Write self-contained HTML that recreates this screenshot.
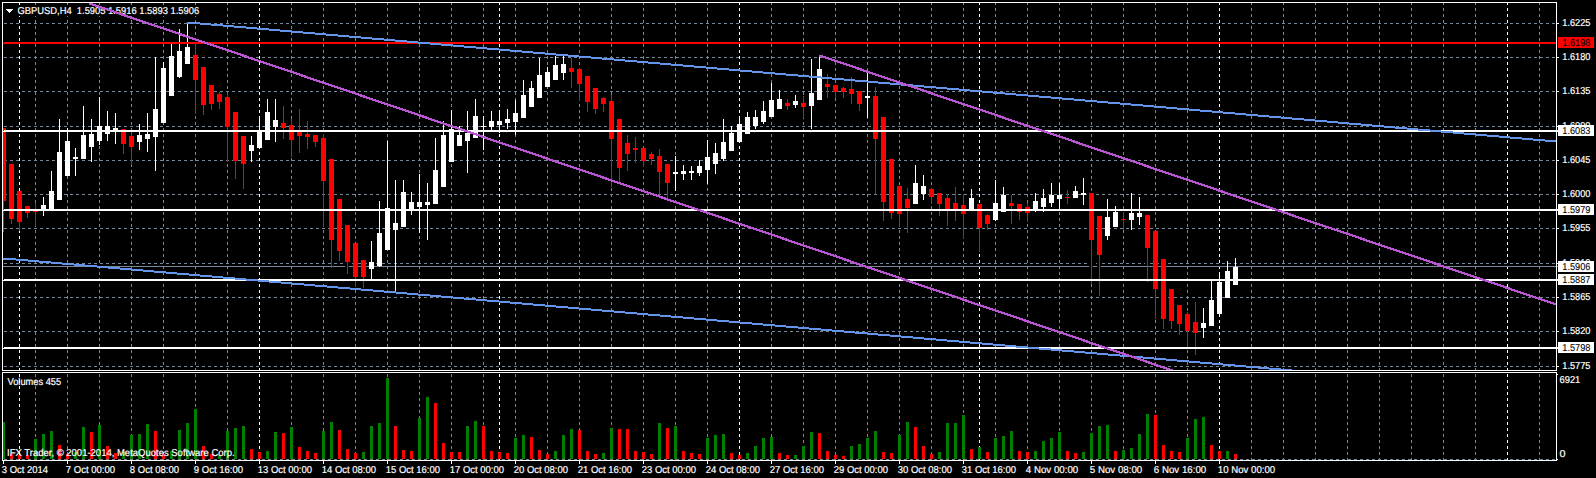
<!DOCTYPE html>
<html><head><meta charset="utf-8"><title>GBPUSD,H4</title>
<style>
html,body{margin:0;padding:0;background:#000;overflow:hidden}
svg{display:block}
text{font-family:"Liberation Sans", sans-serif;white-space:pre}
</style></head>
<body>
<svg width="1596" height="478" viewBox="0 0 1596 478">
<defs><clipPath id="cl"><rect x="3" y="3" width="1553" height="457"/></clipPath><clipPath id="cm"><rect x="3" y="3" width="1553" height="367"/></clipPath></defs>
<rect x="0" y="0" width="1596" height="478" fill="#000"/>
<g shape-rendering="crispEdges"><line x1="4" y1="23.5" x2="1556" y2="23.5" stroke="#778899" stroke-dasharray="3 3"/><line x1="4" y1="57.5" x2="1556" y2="57.5" stroke="#778899" stroke-dasharray="3 3"/><line x1="4" y1="91.5" x2="1556" y2="91.5" stroke="#778899" stroke-dasharray="3 3"/><line x1="4" y1="126.5" x2="1556" y2="126.5" stroke="#778899" stroke-dasharray="3 3"/><line x1="4" y1="160.5" x2="1556" y2="160.5" stroke="#778899" stroke-dasharray="3 3"/><line x1="4" y1="194.5" x2="1556" y2="194.5" stroke="#778899" stroke-dasharray="3 3"/><line x1="4" y1="228.5" x2="1556" y2="228.5" stroke="#778899" stroke-dasharray="3 3"/><line x1="4" y1="263.5" x2="1556" y2="263.5" stroke="#778899" stroke-dasharray="3 3"/><line x1="4" y1="297.5" x2="1556" y2="297.5" stroke="#778899" stroke-dasharray="3 3"/><line x1="4" y1="331.5" x2="1556" y2="331.5" stroke="#778899" stroke-dasharray="3 3"/><line x1="4" y1="366.5" x2="1556" y2="366.5" stroke="#778899" stroke-dasharray="3 3"/><line x1="4" y1="459.5" x2="1556" y2="459.5" stroke="#778899" stroke-dasharray="3 3"/><line x1="35.5" y1="2" x2="35.5" y2="461" stroke="#778899" stroke-dasharray="3 3"/><line x1="67.5" y1="2" x2="67.5" y2="461" stroke="#778899" stroke-dasharray="3 3"/><line x1="99.5" y1="2" x2="99.5" y2="461" stroke="#778899" stroke-dasharray="3 3"/><line x1="131.5" y1="2" x2="131.5" y2="461" stroke="#778899" stroke-dasharray="3 3"/><line x1="163.5" y1="2" x2="163.5" y2="461" stroke="#778899" stroke-dasharray="3 3"/><line x1="195.5" y1="2" x2="195.5" y2="461" stroke="#778899" stroke-dasharray="3 3"/><line x1="227.5" y1="2" x2="227.5" y2="461" stroke="#778899" stroke-dasharray="3 3"/><line x1="259.5" y1="2" x2="259.5" y2="461" stroke="#ffffff" stroke-dasharray="3 3"/><line x1="291.5" y1="2" x2="291.5" y2="461" stroke="#778899" stroke-dasharray="3 3"/><line x1="323.5" y1="2" x2="323.5" y2="461" stroke="#778899" stroke-dasharray="3 3"/><line x1="355.5" y1="2" x2="355.5" y2="461" stroke="#778899" stroke-dasharray="3 3"/><line x1="387.5" y1="2" x2="387.5" y2="461" stroke="#778899" stroke-dasharray="3 3"/><line x1="419.5" y1="2" x2="419.5" y2="461" stroke="#778899" stroke-dasharray="3 3"/><line x1="451.5" y1="2" x2="451.5" y2="461" stroke="#778899" stroke-dasharray="3 3"/><line x1="483.5" y1="2" x2="483.5" y2="461" stroke="#778899" stroke-dasharray="3 3"/><line x1="515.5" y1="2" x2="515.5" y2="461" stroke="#778899" stroke-dasharray="3 3"/><line x1="547.5" y1="2" x2="547.5" y2="461" stroke="#778899" stroke-dasharray="3 3"/><line x1="579.5" y1="2" x2="579.5" y2="461" stroke="#778899" stroke-dasharray="3 3"/><line x1="611.5" y1="2" x2="611.5" y2="461" stroke="#778899" stroke-dasharray="3 3"/><line x1="643.5" y1="2" x2="643.5" y2="461" stroke="#778899" stroke-dasharray="3 3"/><line x1="675.5" y1="2" x2="675.5" y2="461" stroke="#778899" stroke-dasharray="3 3"/><line x1="707.5" y1="2" x2="707.5" y2="461" stroke="#778899" stroke-dasharray="3 3"/><line x1="739.5" y1="2" x2="739.5" y2="461" stroke="#ffffff" stroke-dasharray="3 3"/><line x1="771.5" y1="2" x2="771.5" y2="461" stroke="#778899" stroke-dasharray="3 3"/><line x1="803.5" y1="2" x2="803.5" y2="461" stroke="#778899" stroke-dasharray="3 3"/><line x1="835.5" y1="2" x2="835.5" y2="461" stroke="#778899" stroke-dasharray="3 3"/><line x1="867.5" y1="2" x2="867.5" y2="461" stroke="#778899" stroke-dasharray="3 3"/><line x1="899.5" y1="2" x2="899.5" y2="461" stroke="#778899" stroke-dasharray="3 3"/><line x1="931.5" y1="2" x2="931.5" y2="461" stroke="#778899" stroke-dasharray="3 3"/><line x1="963.5" y1="2" x2="963.5" y2="461" stroke="#778899" stroke-dasharray="3 3"/><line x1="995.5" y1="2" x2="995.5" y2="461" stroke="#778899" stroke-dasharray="3 3"/><line x1="1027.5" y1="2" x2="1027.5" y2="461" stroke="#778899" stroke-dasharray="3 3"/><line x1="1059.5" y1="2" x2="1059.5" y2="461" stroke="#778899" stroke-dasharray="3 3"/><line x1="1091.5" y1="2" x2="1091.5" y2="461" stroke="#778899" stroke-dasharray="3 3"/><line x1="1123.5" y1="2" x2="1123.5" y2="461" stroke="#778899" stroke-dasharray="3 3"/><line x1="1155.5" y1="2" x2="1155.5" y2="461" stroke="#778899" stroke-dasharray="3 3"/><line x1="1187.5" y1="2" x2="1187.5" y2="461" stroke="#778899" stroke-dasharray="3 3"/><line x1="1219.5" y1="2" x2="1219.5" y2="461" stroke="#ffffff" stroke-dasharray="3 3"/><line x1="1251.5" y1="2" x2="1251.5" y2="461" stroke="#778899" stroke-dasharray="3 3"/><line x1="1283.5" y1="2" x2="1283.5" y2="461" stroke="#778899" stroke-dasharray="3 3"/><line x1="1315.5" y1="2" x2="1315.5" y2="461" stroke="#778899" stroke-dasharray="3 3"/><line x1="1347.5" y1="2" x2="1347.5" y2="461" stroke="#778899" stroke-dasharray="3 3"/><line x1="1379.5" y1="2" x2="1379.5" y2="461" stroke="#778899" stroke-dasharray="3 3"/><line x1="1411.5" y1="2" x2="1411.5" y2="461" stroke="#778899" stroke-dasharray="3 3"/><line x1="1443.5" y1="2" x2="1443.5" y2="461" stroke="#778899" stroke-dasharray="3 3"/><line x1="1475.5" y1="2" x2="1475.5" y2="461" stroke="#778899" stroke-dasharray="3 3"/><line x1="1507.5" y1="2" x2="1507.5" y2="461" stroke="#ffffff" stroke-dasharray="3 3"/><line x1="1539.5" y1="2" x2="1539.5" y2="461" stroke="#778899" stroke-dasharray="3 3"/><line x1="19.5" y1="2" x2="19.5" y2="461" stroke="#fff" stroke-dasharray="3 3"/><line x1="499.5" y1="2" x2="499.5" y2="461" stroke="#fff" stroke-dasharray="3 3"/><line x1="979.5" y1="2" x2="979.5" y2="461" stroke="#fff" stroke-dasharray="3 3"/></g>
<rect x="17" y="5" width="183" height="11" fill="#000" shape-rendering="crispEdges"/>
<g font-family='"Liberation Sans", sans-serif' font-size="10" stroke-width="0.2" text-rendering="geometricPrecision">
<text x="17.55" y="14" fill="#fff" stroke="#fff" textLength="181.55" lengthAdjust="spacingAndGlyphs">GBPUSD,H4&#160;&#160;1.5905 1.5916 1.5893 1.5906</text>
</g>
<rect x="6" y="9" width="7" height="1" fill="#fff" shape-rendering="crispEdges"/>
<rect x="7" y="10" width="5" height="1" fill="#fff" shape-rendering="crispEdges"/>
<rect x="8" y="11" width="3" height="1" fill="#fff" shape-rendering="crispEdges"/>
<rect x="9" y="12" width="1" height="1" fill="#fff" shape-rendering="crispEdges"/>
<rect x="3" y="266" width="1555" height="1" fill="#778899" shape-rendering="crispEdges"/>
<rect x="345" y="263" width="4" height="1" fill="#000" shape-rendering="crispEdges"/>
<rect x="345" y="266" width="4" height="1" fill="#000" shape-rendering="crispEdges"/>
<rect x="1089" y="263" width="4" height="1" fill="#000" shape-rendering="crispEdges"/>
<rect x="1089" y="266" width="4" height="1" fill="#000" shape-rendering="crispEdges"/>
<rect x="1097" y="263" width="4" height="1" fill="#000" shape-rendering="crispEdges"/>
<rect x="1097" y="266" width="4" height="1" fill="#000" shape-rendering="crispEdges"/>
<rect x="1145" y="263" width="2" height="1" fill="#000" shape-rendering="crispEdges"/>
<g shape-rendering="crispEdges" clip-path="url(#cl)"><rect x="2" y="422" width="3" height="37" fill="#008000"/><rect x="10" y="454" width="3" height="5" fill="#ff0000"/><rect x="18" y="455" width="3" height="4" fill="#ff0000"/><rect x="26" y="455" width="3" height="4" fill="#ff0000"/><rect x="34" y="439" width="3" height="20" fill="#008000"/><rect x="42" y="434" width="3" height="25" fill="#008000"/><rect x="50" y="431" width="3" height="28" fill="#008000"/><rect x="58" y="445" width="3" height="14" fill="#ff0000"/><rect x="66" y="454" width="3" height="5" fill="#ff0000"/><rect x="74" y="452" width="3" height="7" fill="#008000"/><rect x="82" y="427" width="3" height="32" fill="#008000"/><rect x="90" y="432" width="3" height="27" fill="#ff0000"/><rect x="98" y="425" width="3" height="34" fill="#008000"/><rect x="106" y="446" width="3" height="13" fill="#ff0000"/><rect x="114" y="453" width="3" height="6" fill="#ff0000"/><rect x="122" y="452" width="3" height="7" fill="#008000"/><rect x="130" y="435" width="3" height="24" fill="#008000"/><rect x="138" y="434" width="3" height="25" fill="#008000"/><rect x="146" y="424" width="3" height="35" fill="#008000"/><rect x="154" y="431" width="3" height="28" fill="#ff0000"/><rect x="162" y="454" width="3" height="5" fill="#ff0000"/><rect x="170" y="451" width="3" height="8" fill="#008000"/><rect x="178" y="430" width="3" height="29" fill="#008000"/><rect x="186" y="423" width="3" height="36" fill="#008000"/><rect x="194" y="409" width="3" height="50" fill="#008000"/><rect x="202" y="446" width="3" height="13" fill="#ff0000"/><rect x="210" y="454" width="3" height="5" fill="#ff0000"/><rect x="218" y="455" width="3" height="4" fill="#008000"/><rect x="226" y="431" width="3" height="28" fill="#008000"/><rect x="234" y="428" width="3" height="31" fill="#008000"/><rect x="242" y="426" width="3" height="33" fill="#008000"/><rect x="250" y="449" width="3" height="10" fill="#ff0000"/><rect x="258" y="452" width="3" height="7" fill="#ff0000"/><rect x="266" y="451" width="3" height="8" fill="#008000"/><rect x="274" y="432" width="3" height="27" fill="#008000"/><rect x="282" y="433" width="3" height="26" fill="#ff0000"/><rect x="290" y="427" width="3" height="32" fill="#008000"/><rect x="298" y="447" width="3" height="12" fill="#ff0000"/><rect x="306" y="451" width="3" height="8" fill="#ff0000"/><rect x="314" y="453" width="3" height="6" fill="#ff0000"/><rect x="322" y="431" width="3" height="28" fill="#008000"/><rect x="330" y="422" width="3" height="37" fill="#008000"/><rect x="338" y="430" width="3" height="29" fill="#ff0000"/><rect x="346" y="449" width="3" height="10" fill="#ff0000"/><rect x="354" y="453" width="3" height="6" fill="#ff0000"/><rect x="362" y="452" width="3" height="7" fill="#008000"/><rect x="370" y="426" width="3" height="33" fill="#008000"/><rect x="378" y="423" width="3" height="36" fill="#008000"/><rect x="386" y="378" width="3" height="81" fill="#008000"/><rect x="394" y="426" width="3" height="33" fill="#ff0000"/><rect x="402" y="450" width="3" height="9" fill="#ff0000"/><rect x="410" y="451" width="3" height="8" fill="#ff0000"/><rect x="418" y="418" width="3" height="41" fill="#008000"/><rect x="426" y="397" width="3" height="62" fill="#008000"/><rect x="434" y="403" width="3" height="56" fill="#ff0000"/><rect x="442" y="443" width="3" height="16" fill="#ff0000"/><rect x="450" y="452" width="3" height="7" fill="#ff0000"/><rect x="458" y="452" width="3" height="7" fill="#ff0000"/><rect x="466" y="426" width="3" height="33" fill="#008000"/><rect x="474" y="421" width="3" height="38" fill="#008000"/><rect x="482" y="426" width="3" height="33" fill="#ff0000"/><rect x="490" y="451" width="3" height="8" fill="#ff0000"/><rect x="498" y="452" width="3" height="7" fill="#ff0000"/><rect x="506" y="453" width="3" height="6" fill="#ff0000"/><rect x="514" y="438" width="3" height="21" fill="#008000"/><rect x="522" y="435" width="3" height="24" fill="#008000"/><rect x="530" y="437" width="3" height="22" fill="#ff0000"/><rect x="538" y="450" width="3" height="9" fill="#ff0000"/><rect x="546" y="454" width="3" height="5" fill="#ff0000"/><rect x="554" y="451" width="3" height="8" fill="#008000"/><rect x="562" y="435" width="3" height="24" fill="#008000"/><rect x="570" y="429" width="3" height="30" fill="#008000"/><rect x="578" y="430" width="3" height="29" fill="#ff0000"/><rect x="586" y="451" width="3" height="8" fill="#ff0000"/><rect x="594" y="454" width="3" height="5" fill="#ff0000"/><rect x="602" y="453" width="3" height="6" fill="#008000"/><rect x="610" y="428" width="3" height="31" fill="#008000"/><rect x="618" y="429" width="3" height="30" fill="#ff0000"/><rect x="626" y="429" width="3" height="30" fill="#ff0000"/><rect x="634" y="451" width="3" height="8" fill="#ff0000"/><rect x="642" y="452" width="3" height="7" fill="#ff0000"/><rect x="650" y="454" width="3" height="5" fill="#ff0000"/><rect x="658" y="423" width="3" height="36" fill="#008000"/><rect x="666" y="428" width="3" height="31" fill="#ff0000"/><rect x="674" y="426" width="3" height="33" fill="#008000"/><rect x="682" y="451" width="3" height="8" fill="#ff0000"/><rect x="690" y="453" width="3" height="6" fill="#ff0000"/><rect x="698" y="454" width="3" height="5" fill="#ff0000"/><rect x="706" y="438" width="3" height="21" fill="#008000"/><rect x="714" y="435" width="3" height="24" fill="#008000"/><rect x="722" y="434" width="3" height="25" fill="#008000"/><rect x="730" y="453" width="3" height="6" fill="#ff0000"/><rect x="738" y="455" width="3" height="4" fill="#ff0000"/><rect x="746" y="453" width="3" height="6" fill="#008000"/><rect x="754" y="446" width="3" height="13" fill="#008000"/><rect x="762" y="438" width="3" height="21" fill="#008000"/><rect x="770" y="437" width="3" height="22" fill="#008000"/><rect x="778" y="453" width="3" height="6" fill="#ff0000"/><rect x="786" y="455" width="3" height="4" fill="#ff0000"/><rect x="794" y="455" width="3" height="4" fill="#008000"/><rect x="802" y="446" width="3" height="13" fill="#008000"/><rect x="810" y="432" width="3" height="27" fill="#008000"/><rect x="818" y="433" width="3" height="26" fill="#ff0000"/><rect x="826" y="451" width="3" height="8" fill="#ff0000"/><rect x="834" y="455" width="3" height="4" fill="#ff0000"/><rect x="842" y="456" width="3" height="3" fill="#ff0000"/><rect x="850" y="446" width="3" height="13" fill="#008000"/><rect x="858" y="444" width="3" height="15" fill="#008000"/><rect x="866" y="438" width="3" height="21" fill="#008000"/><rect x="874" y="431" width="3" height="28" fill="#008000"/><rect x="882" y="452" width="3" height="7" fill="#ff0000"/><rect x="890" y="453" width="3" height="6" fill="#ff0000"/><rect x="898" y="435" width="3" height="24" fill="#008000"/><rect x="906" y="422" width="3" height="37" fill="#008000"/><rect x="914" y="427" width="3" height="32" fill="#ff0000"/><rect x="922" y="446" width="3" height="13" fill="#ff0000"/><rect x="930" y="454" width="3" height="5" fill="#ff0000"/><rect x="938" y="452" width="3" height="7" fill="#008000"/><rect x="946" y="423" width="3" height="36" fill="#008000"/><rect x="954" y="423" width="3" height="36" fill="#008000"/><rect x="962" y="415" width="3" height="44" fill="#008000"/><rect x="970" y="449" width="3" height="10" fill="#ff0000"/><rect x="978" y="447" width="3" height="12" fill="#008000"/><rect x="986" y="452" width="3" height="7" fill="#ff0000"/><rect x="994" y="438" width="3" height="21" fill="#008000"/><rect x="1002" y="436" width="3" height="23" fill="#008000"/><rect x="1010" y="431" width="3" height="28" fill="#008000"/><rect x="1018" y="451" width="3" height="8" fill="#ff0000"/><rect x="1026" y="452" width="3" height="7" fill="#ff0000"/><rect x="1034" y="451" width="3" height="8" fill="#008000"/><rect x="1042" y="441" width="3" height="18" fill="#008000"/><rect x="1050" y="438" width="3" height="21" fill="#008000"/><rect x="1058" y="432" width="3" height="27" fill="#008000"/><rect x="1066" y="451" width="3" height="8" fill="#ff0000"/><rect x="1074" y="453" width="3" height="6" fill="#ff0000"/><rect x="1082" y="452" width="3" height="7" fill="#008000"/><rect x="1090" y="433" width="3" height="26" fill="#008000"/><rect x="1098" y="426" width="3" height="33" fill="#008000"/><rect x="1106" y="425" width="3" height="34" fill="#008000"/><rect x="1114" y="451" width="3" height="8" fill="#ff0000"/><rect x="1122" y="450" width="3" height="9" fill="#008000"/><rect x="1130" y="448" width="3" height="11" fill="#008000"/><rect x="1138" y="434" width="3" height="25" fill="#008000"/><rect x="1146" y="414" width="3" height="45" fill="#008000"/><rect x="1154" y="415" width="3" height="44" fill="#ff0000"/><rect x="1162" y="445" width="3" height="14" fill="#ff0000"/><rect x="1170" y="451" width="3" height="8" fill="#ff0000"/><rect x="1178" y="452" width="3" height="7" fill="#ff0000"/><rect x="1186" y="438" width="3" height="21" fill="#008000"/><rect x="1194" y="419" width="3" height="40" fill="#008000"/><rect x="1202" y="417" width="3" height="42" fill="#008000"/><rect x="1210" y="445" width="3" height="14" fill="#ff0000"/><rect x="1218" y="451" width="3" height="8" fill="#ff0000"/><rect x="1226" y="451" width="3" height="8" fill="#008000"/><rect x="1234" y="454" width="3" height="5" fill="#ff0000"/><rect x="3" y="128" width="1" height="104" fill="#ff0000"/><rect x="1" y="128" width="5" height="73" fill="#ff0000"/><rect x="11" y="164" width="1" height="60" fill="#ff0000"/><rect x="9" y="164" width="5" height="55" fill="#ff0000"/><rect x="19" y="191" width="1" height="40" fill="#ff0000"/><rect x="17" y="191" width="5" height="31" fill="#ff0000"/><rect x="27" y="206" width="1" height="12" fill="#ff0000"/><rect x="25" y="206" width="5" height="7" fill="#ff0000"/><rect x="35" y="203" width="1" height="23" fill="#ff0000"/><rect x="33" y="211" width="5" height="1" fill="#ff0000"/><rect x="43" y="197" width="1" height="19" fill="#ffffff"/><rect x="41" y="205" width="5" height="6" fill="#ffffff"/><rect x="51" y="171" width="1" height="40" fill="#ffffff"/><rect x="49" y="191" width="5" height="20" fill="#ffffff"/><rect x="59" y="119" width="1" height="81" fill="#ffffff"/><rect x="57" y="152" width="5" height="48" fill="#ffffff"/><rect x="67" y="128" width="1" height="48" fill="#ffffff"/><rect x="65" y="141" width="5" height="35" fill="#ffffff"/><rect x="75" y="148" width="1" height="28" fill="#ffffff"/><rect x="73" y="157" width="5" height="2" fill="#ffffff"/><rect x="83" y="106" width="1" height="53" fill="#ffffff"/><rect x="81" y="135" width="5" height="24" fill="#ffffff"/><rect x="91" y="119" width="1" height="43" fill="#ffffff"/><rect x="89" y="134" width="5" height="13" fill="#ffffff"/><rect x="99" y="97" width="1" height="48" fill="#ffffff"/><rect x="97" y="126" width="5" height="15" fill="#ffffff"/><rect x="107" y="111" width="1" height="30" fill="#ffffff"/><rect x="105" y="126" width="5" height="8" fill="#ffffff"/><rect x="115" y="113" width="1" height="31" fill="#ffffff"/><rect x="113" y="128" width="5" height="3" fill="#ffffff"/><rect x="123" y="129" width="1" height="25" fill="#ff0000"/><rect x="121" y="129" width="5" height="15" fill="#ff0000"/><rect x="131" y="132" width="1" height="33" fill="#ff0000"/><rect x="129" y="136" width="5" height="11" fill="#ff0000"/><rect x="139" y="124" width="1" height="26" fill="#ffffff"/><rect x="137" y="135" width="5" height="7" fill="#ffffff"/><rect x="147" y="113" width="1" height="39" fill="#ffffff"/><rect x="145" y="134" width="5" height="5" fill="#ffffff"/><rect x="155" y="57" width="1" height="114" fill="#ffffff"/><rect x="153" y="109" width="5" height="28" fill="#ffffff"/><rect x="163" y="62" width="1" height="61" fill="#ffffff"/><rect x="161" y="68" width="5" height="55" fill="#ffffff"/><rect x="171" y="44" width="1" height="52" fill="#ffffff"/><rect x="169" y="56" width="5" height="40" fill="#ffffff"/><rect x="179" y="29" width="1" height="49" fill="#ffffff"/><rect x="177" y="51" width="5" height="26" fill="#ffffff"/><rect x="187" y="23" width="1" height="41" fill="#ffffff"/><rect x="185" y="47" width="5" height="17" fill="#ffffff"/><rect x="195" y="44" width="1" height="70" fill="#ff0000"/><rect x="193" y="55" width="5" height="25" fill="#ff0000"/><rect x="203" y="67" width="1" height="48" fill="#ff0000"/><rect x="201" y="67" width="5" height="38" fill="#ff0000"/><rect x="211" y="85" width="1" height="25" fill="#ff0000"/><rect x="209" y="85" width="5" height="19" fill="#ff0000"/><rect x="219" y="92" width="1" height="17" fill="#ff0000"/><rect x="217" y="94" width="5" height="8" fill="#ff0000"/><rect x="227" y="93" width="1" height="69" fill="#ff0000"/><rect x="225" y="97" width="5" height="30" fill="#ff0000"/><rect x="235" y="112" width="1" height="67" fill="#ff0000"/><rect x="233" y="112" width="5" height="49" fill="#ff0000"/><rect x="243" y="136" width="1" height="53" fill="#ff0000"/><rect x="241" y="136" width="5" height="28" fill="#ff0000"/><rect x="251" y="136" width="1" height="26" fill="#ffffff"/><rect x="249" y="145" width="5" height="6" fill="#ffffff"/><rect x="259" y="116" width="1" height="33" fill="#ffffff"/><rect x="257" y="130" width="5" height="18" fill="#ffffff"/><rect x="267" y="99" width="1" height="41" fill="#ffffff"/><rect x="265" y="112" width="5" height="28" fill="#ffffff"/><rect x="275" y="99" width="1" height="43" fill="#ffffff"/><rect x="273" y="120" width="5" height="7" fill="#ffffff"/><rect x="283" y="106" width="1" height="33" fill="#ff0000"/><rect x="281" y="123" width="5" height="5" fill="#ff0000"/><rect x="291" y="119" width="1" height="38" fill="#ff0000"/><rect x="289" y="125" width="5" height="15" fill="#ff0000"/><rect x="299" y="109" width="1" height="44" fill="#ff0000"/><rect x="297" y="130" width="5" height="6" fill="#ff0000"/><rect x="307" y="121" width="1" height="28" fill="#ff0000"/><rect x="305" y="134" width="5" height="3" fill="#ff0000"/><rect x="315" y="135" width="1" height="12" fill="#ff0000"/><rect x="313" y="135" width="5" height="7" fill="#ff0000"/><rect x="323" y="134" width="1" height="93" fill="#ff0000"/><rect x="321" y="138" width="5" height="43" fill="#ff0000"/><rect x="331" y="159" width="1" height="109" fill="#ff0000"/><rect x="329" y="159" width="5" height="81" fill="#ff0000"/><rect x="339" y="199" width="1" height="62" fill="#ff0000"/><rect x="337" y="199" width="5" height="52" fill="#ff0000"/><rect x="347" y="225" width="1" height="49" fill="#ff0000"/><rect x="345" y="225" width="5" height="37" fill="#ff0000"/><rect x="355" y="243" width="1" height="44" fill="#ff0000"/><rect x="353" y="243" width="5" height="34" fill="#ff0000"/><rect x="363" y="260" width="1" height="28" fill="#ff0000"/><rect x="361" y="260" width="5" height="17" fill="#ff0000"/><rect x="371" y="241" width="1" height="38" fill="#ffffff"/><rect x="369" y="262" width="5" height="7" fill="#ffffff"/><rect x="379" y="201" width="1" height="66" fill="#ffffff"/><rect x="377" y="233" width="5" height="33" fill="#ffffff"/><rect x="387" y="141" width="1" height="109" fill="#ffffff"/><rect x="385" y="208" width="5" height="42" fill="#ffffff"/><rect x="395" y="180" width="1" height="111" fill="#ffffff"/><rect x="393" y="223" width="5" height="7" fill="#ffffff"/><rect x="403" y="180" width="1" height="47" fill="#ffffff"/><rect x="401" y="192" width="5" height="35" fill="#ffffff"/><rect x="411" y="192" width="1" height="23" fill="#ffffff"/><rect x="409" y="202" width="5" height="9" fill="#ffffff"/><rect x="419" y="174" width="1" height="59" fill="#ffffff"/><rect x="417" y="202" width="5" height="5" fill="#ffffff"/><rect x="427" y="183" width="1" height="57" fill="#ffffff"/><rect x="425" y="202" width="5" height="3" fill="#ffffff"/><rect x="435" y="138" width="1" height="66" fill="#ffffff"/><rect x="433" y="170" width="5" height="34" fill="#ffffff"/><rect x="443" y="121" width="1" height="66" fill="#ffffff"/><rect x="441" y="135" width="5" height="52" fill="#ffffff"/><rect x="451" y="110" width="1" height="52" fill="#ffffff"/><rect x="449" y="129" width="5" height="33" fill="#ffffff"/><rect x="459" y="126" width="1" height="20" fill="#ffffff"/><rect x="457" y="135" width="5" height="11" fill="#ffffff"/><rect x="467" y="111" width="1" height="62" fill="#ffffff"/><rect x="465" y="133" width="5" height="8" fill="#ffffff"/><rect x="475" y="99" width="1" height="39" fill="#ffffff"/><rect x="473" y="116" width="5" height="22" fill="#ffffff"/><rect x="483" y="116" width="1" height="34" fill="#ffffff"/><rect x="481" y="126" width="5" height="1" fill="#ffffff"/><rect x="491" y="111" width="1" height="19" fill="#ffffff"/><rect x="489" y="121" width="5" height="6" fill="#ffffff"/><rect x="499" y="110" width="1" height="23" fill="#ffffff"/><rect x="497" y="121" width="5" height="4" fill="#ffffff"/><rect x="507" y="109" width="1" height="20" fill="#ffffff"/><rect x="505" y="119" width="5" height="4" fill="#ffffff"/><rect x="515" y="100" width="1" height="35" fill="#ffffff"/><rect x="513" y="113" width="5" height="9" fill="#ffffff"/><rect x="523" y="80" width="1" height="38" fill="#ffffff"/><rect x="521" y="95" width="5" height="23" fill="#ffffff"/><rect x="531" y="81" width="1" height="26" fill="#ffffff"/><rect x="529" y="88" width="5" height="19" fill="#ffffff"/><rect x="539" y="58" width="1" height="40" fill="#ffffff"/><rect x="537" y="75" width="5" height="23" fill="#ffffff"/><rect x="547" y="67" width="1" height="20" fill="#ffffff"/><rect x="545" y="72" width="5" height="15" fill="#ffffff"/><rect x="555" y="56" width="1" height="24" fill="#ffffff"/><rect x="553" y="65" width="5" height="15" fill="#ffffff"/><rect x="563" y="56" width="1" height="24" fill="#ffffff"/><rect x="561" y="64" width="5" height="9" fill="#ffffff"/><rect x="571" y="58" width="1" height="30" fill="#ff0000"/><rect x="569" y="68" width="5" height="4" fill="#ff0000"/><rect x="579" y="68" width="1" height="33" fill="#ff0000"/><rect x="577" y="69" width="5" height="15" fill="#ff0000"/><rect x="587" y="76" width="1" height="36" fill="#ff0000"/><rect x="585" y="76" width="5" height="26" fill="#ff0000"/><rect x="595" y="88" width="1" height="26" fill="#ff0000"/><rect x="593" y="88" width="5" height="21" fill="#ff0000"/><rect x="603" y="97" width="1" height="15" fill="#ff0000"/><rect x="601" y="98" width="5" height="6" fill="#ff0000"/><rect x="611" y="95" width="1" height="92" fill="#ff0000"/><rect x="609" y="101" width="5" height="38" fill="#ff0000"/><rect x="619" y="119" width="1" height="64" fill="#ff0000"/><rect x="617" y="119" width="5" height="49" fill="#ff0000"/><rect x="627" y="135" width="1" height="36" fill="#ff0000"/><rect x="625" y="143" width="5" height="11" fill="#ff0000"/><rect x="635" y="137" width="1" height="26" fill="#ff0000"/><rect x="633" y="148" width="5" height="2" fill="#ff0000"/><rect x="643" y="148" width="1" height="19" fill="#ff0000"/><rect x="641" y="148" width="5" height="13" fill="#ff0000"/><rect x="651" y="152" width="1" height="13" fill="#ff0000"/><rect x="649" y="154" width="5" height="5" fill="#ff0000"/><rect x="659" y="149" width="1" height="47" fill="#ff0000"/><rect x="657" y="156" width="5" height="16" fill="#ff0000"/><rect x="667" y="164" width="1" height="34" fill="#ff0000"/><rect x="665" y="164" width="5" height="19" fill="#ff0000"/><rect x="675" y="156" width="1" height="35" fill="#ffffff"/><rect x="673" y="172" width="5" height="2" fill="#ffffff"/><rect x="683" y="165" width="1" height="15" fill="#ffffff"/><rect x="681" y="171" width="5" height="3" fill="#ffffff"/><rect x="691" y="166" width="1" height="14" fill="#ffffff"/><rect x="689" y="171" width="5" height="2" fill="#ffffff"/><rect x="699" y="160" width="1" height="16" fill="#ffffff"/><rect x="697" y="166" width="5" height="7" fill="#ffffff"/><rect x="707" y="140" width="1" height="44" fill="#ffffff"/><rect x="705" y="157" width="5" height="13" fill="#ffffff"/><rect x="715" y="143" width="1" height="31" fill="#ffffff"/><rect x="713" y="153" width="5" height="11" fill="#ffffff"/><rect x="723" y="119" width="1" height="42" fill="#ffffff"/><rect x="721" y="142" width="5" height="17" fill="#ffffff"/><rect x="731" y="126" width="1" height="25" fill="#ffffff"/><rect x="729" y="133" width="5" height="18" fill="#ffffff"/><rect x="739" y="116" width="1" height="27" fill="#ffffff"/><rect x="737" y="124" width="5" height="18" fill="#ffffff"/><rect x="747" y="112" width="1" height="22" fill="#ffffff"/><rect x="745" y="117" width="5" height="17" fill="#ffffff"/><rect x="755" y="110" width="1" height="19" fill="#ffffff"/><rect x="753" y="117" width="5" height="9" fill="#ffffff"/><rect x="763" y="101" width="1" height="23" fill="#ffffff"/><rect x="761" y="111" width="5" height="11" fill="#ffffff"/><rect x="771" y="83" width="1" height="34" fill="#ffffff"/><rect x="769" y="100" width="5" height="17" fill="#ffffff"/><rect x="779" y="90" width="1" height="19" fill="#ffffff"/><rect x="777" y="99" width="5" height="10" fill="#ffffff"/><rect x="787" y="99" width="1" height="11" fill="#ff0000"/><rect x="785" y="103" width="5" height="3" fill="#ff0000"/><rect x="795" y="95" width="1" height="13" fill="#ffffff"/><rect x="793" y="101" width="5" height="4" fill="#ffffff"/><rect x="803" y="96" width="1" height="22" fill="#ff0000"/><rect x="801" y="103" width="5" height="4" fill="#ff0000"/><rect x="811" y="59" width="1" height="70" fill="#ffffff"/><rect x="809" y="93" width="5" height="13" fill="#ffffff"/><rect x="819" y="56" width="1" height="44" fill="#ffffff"/><rect x="817" y="69" width="5" height="31" fill="#ffffff"/><rect x="827" y="74" width="1" height="24" fill="#ff0000"/><rect x="825" y="84" width="5" height="3" fill="#ff0000"/><rect x="835" y="85" width="1" height="13" fill="#ff0000"/><rect x="833" y="85" width="5" height="7" fill="#ff0000"/><rect x="843" y="87" width="1" height="11" fill="#ff0000"/><rect x="841" y="88" width="5" height="4" fill="#ff0000"/><rect x="851" y="77" width="1" height="27" fill="#ff0000"/><rect x="849" y="89" width="5" height="5" fill="#ff0000"/><rect x="859" y="91" width="1" height="20" fill="#ff0000"/><rect x="857" y="91" width="5" height="13" fill="#ff0000"/><rect x="867" y="73" width="1" height="45" fill="#ffffff"/><rect x="865" y="96" width="5" height="2" fill="#ffffff"/><rect x="875" y="87" width="1" height="107" fill="#ff0000"/><rect x="873" y="96" width="5" height="43" fill="#ff0000"/><rect x="883" y="117" width="1" height="104" fill="#ff0000"/><rect x="881" y="117" width="5" height="85" fill="#ff0000"/><rect x="891" y="159" width="1" height="60" fill="#ff0000"/><rect x="889" y="159" width="5" height="54" fill="#ff0000"/><rect x="899" y="186" width="1" height="41" fill="#ff0000"/><rect x="897" y="186" width="5" height="28" fill="#ff0000"/><rect x="907" y="188" width="1" height="45" fill="#ff0000"/><rect x="905" y="199" width="5" height="9" fill="#ff0000"/><rect x="915" y="165" width="1" height="39" fill="#ffffff"/><rect x="913" y="183" width="5" height="21" fill="#ffffff"/><rect x="923" y="175" width="1" height="25" fill="#ffffff"/><rect x="921" y="186" width="5" height="8" fill="#ffffff"/><rect x="931" y="188" width="1" height="16" fill="#ff0000"/><rect x="929" y="189" width="5" height="8" fill="#ff0000"/><rect x="939" y="193" width="1" height="23" fill="#ff0000"/><rect x="937" y="193" width="5" height="11" fill="#ff0000"/><rect x="947" y="194" width="1" height="32" fill="#ff0000"/><rect x="945" y="198" width="5" height="13" fill="#ff0000"/><rect x="955" y="187" width="1" height="34" fill="#ff0000"/><rect x="953" y="203" width="5" height="8" fill="#ff0000"/><rect x="963" y="194" width="1" height="45" fill="#ff0000"/><rect x="961" y="205" width="5" height="9" fill="#ff0000"/><rect x="971" y="189" width="1" height="22" fill="#ffffff"/><rect x="969" y="198" width="5" height="13" fill="#ffffff"/><rect x="979" y="204" width="1" height="48" fill="#ff0000"/><rect x="977" y="204" width="5" height="24" fill="#ff0000"/><rect x="987" y="214" width="1" height="16" fill="#ff0000"/><rect x="985" y="215" width="5" height="9" fill="#ff0000"/><rect x="995" y="180" width="1" height="41" fill="#ffffff"/><rect x="993" y="203" width="5" height="17" fill="#ffffff"/><rect x="1003" y="187" width="1" height="25" fill="#ffffff"/><rect x="1001" y="195" width="5" height="17" fill="#ffffff"/><rect x="1011" y="195" width="1" height="29" fill="#ff0000"/><rect x="1009" y="203" width="5" height="3" fill="#ff0000"/><rect x="1019" y="204" width="1" height="16" fill="#ff0000"/><rect x="1017" y="204" width="5" height="8" fill="#ff0000"/><rect x="1027" y="203" width="1" height="19" fill="#ff0000"/><rect x="1025" y="207" width="5" height="6" fill="#ff0000"/><rect x="1035" y="193" width="1" height="19" fill="#ffffff"/><rect x="1033" y="201" width="5" height="10" fill="#ffffff"/><rect x="1043" y="189" width="1" height="23" fill="#ffffff"/><rect x="1041" y="198" width="5" height="9" fill="#ffffff"/><rect x="1051" y="183" width="1" height="24" fill="#ffffff"/><rect x="1049" y="195" width="5" height="8" fill="#ffffff"/><rect x="1059" y="183" width="1" height="28" fill="#ffffff"/><rect x="1057" y="195" width="5" height="4" fill="#ffffff"/><rect x="1067" y="190" width="1" height="14" fill="#ff0000"/><rect x="1065" y="197" width="5" height="1" fill="#ff0000"/><rect x="1075" y="186" width="1" height="12" fill="#ffffff"/><rect x="1073" y="191" width="5" height="7" fill="#ffffff"/><rect x="1083" y="178" width="1" height="27" fill="#ffffff"/><rect x="1081" y="193" width="5" height="2" fill="#ffffff"/><rect x="1091" y="193" width="1" height="91" fill="#ff0000"/><rect x="1089" y="193" width="5" height="47" fill="#ff0000"/><rect x="1099" y="216" width="1" height="80" fill="#ff0000"/><rect x="1097" y="216" width="5" height="39" fill="#ff0000"/><rect x="1107" y="199" width="1" height="41" fill="#ffffff"/><rect x="1105" y="217" width="5" height="19" fill="#ffffff"/><rect x="1115" y="206" width="1" height="21" fill="#ffffff"/><rect x="1113" y="212" width="5" height="15" fill="#ffffff"/><rect x="1123" y="212" width="1" height="18" fill="#ff0000"/><rect x="1121" y="219" width="5" height="1" fill="#ff0000"/><rect x="1131" y="193" width="1" height="37" fill="#ffffff"/><rect x="1129" y="213" width="5" height="7" fill="#ffffff"/><rect x="1139" y="197" width="1" height="28" fill="#ffffff"/><rect x="1137" y="213" width="5" height="4" fill="#ffffff"/><rect x="1147" y="215" width="1" height="67" fill="#ff0000"/><rect x="1145" y="215" width="5" height="33" fill="#ff0000"/><rect x="1155" y="231" width="1" height="88" fill="#ff0000"/><rect x="1153" y="231" width="5" height="58" fill="#ff0000"/><rect x="1163" y="259" width="1" height="70" fill="#ff0000"/><rect x="1161" y="259" width="5" height="60" fill="#ff0000"/><rect x="1171" y="289" width="1" height="40" fill="#ff0000"/><rect x="1169" y="289" width="5" height="32" fill="#ff0000"/><rect x="1179" y="305" width="1" height="30" fill="#ff0000"/><rect x="1177" y="305" width="5" height="19" fill="#ff0000"/><rect x="1187" y="312" width="1" height="37" fill="#ff0000"/><rect x="1185" y="314" width="5" height="17" fill="#ff0000"/><rect x="1195" y="302" width="1" height="53" fill="#ff0000"/><rect x="1193" y="322" width="5" height="11" fill="#ff0000"/><rect x="1203" y="308" width="1" height="30" fill="#ffffff"/><rect x="1201" y="323" width="5" height="5" fill="#ffffff"/><rect x="1211" y="281" width="1" height="45" fill="#ffffff"/><rect x="1209" y="300" width="5" height="26" fill="#ffffff"/><rect x="1219" y="272" width="1" height="44" fill="#ffffff"/><rect x="1217" y="282" width="5" height="32" fill="#ffffff"/><rect x="1227" y="261" width="1" height="37" fill="#ffffff"/><rect x="1225" y="271" width="5" height="27" fill="#ffffff"/><rect x="1235" y="258" width="1" height="27" fill="#ffffff"/><rect x="1233" y="267" width="5" height="18" fill="#ffffff"/></g>
<g shape-rendering="crispEdges"><rect x="4" y="130" width="1554" height="2" fill="#fff"/><rect x="3" y="131" width="1" height="1" fill="#fff"/><rect x="4" y="209" width="1554" height="2" fill="#fff"/><rect x="3" y="210" width="1" height="1" fill="#fff"/><rect x="4" y="279" width="1554" height="2" fill="#fff"/><rect x="3" y="280" width="1" height="1" fill="#fff"/><rect x="4" y="347" width="1554" height="2" fill="#fff"/><rect x="3" y="348" width="1" height="1" fill="#fff"/><rect x="4" y="42" width="1552" height="2" fill="#ff0000"/><rect x="3" y="43" width="1" height="1" fill="#ff0000"/></g>
<g shape-rendering="crispEdges"><rect x="187" y="22" width="13" height="2" fill="#6495ED"/><rect x="200" y="23" width="11" height="2" fill="#6495ED"/><rect x="211" y="24" width="12" height="2" fill="#6495ED"/><rect x="223" y="25" width="11" height="2" fill="#6495ED"/><rect x="234" y="26" width="12" height="2" fill="#6495ED"/><rect x="246" y="27" width="11" height="2" fill="#6495ED"/><rect x="257" y="28" width="12" height="2" fill="#6495ED"/><rect x="269" y="29" width="11" height="2" fill="#6495ED"/><rect x="280" y="30" width="12" height="2" fill="#6495ED"/><rect x="292" y="31" width="11" height="2" fill="#6495ED"/><rect x="303" y="32" width="12" height="2" fill="#6495ED"/><rect x="315" y="33" width="11" height="2" fill="#6495ED"/><rect x="326" y="34" width="12" height="2" fill="#6495ED"/><rect x="338" y="35" width="11" height="2" fill="#6495ED"/><rect x="349" y="36" width="12" height="2" fill="#6495ED"/><rect x="361" y="37" width="11" height="2" fill="#6495ED"/><rect x="372" y="38" width="12" height="2" fill="#6495ED"/><rect x="384" y="39" width="11" height="2" fill="#6495ED"/><rect x="395" y="40" width="12" height="2" fill="#6495ED"/><rect x="407" y="41" width="11" height="2" fill="#6495ED"/><rect x="418" y="42" width="12" height="2" fill="#6495ED"/><rect x="430" y="43" width="11" height="2" fill="#6495ED"/><rect x="441" y="44" width="12" height="2" fill="#6495ED"/><rect x="453" y="45" width="11" height="2" fill="#6495ED"/><rect x="464" y="46" width="12" height="2" fill="#6495ED"/><rect x="476" y="47" width="11" height="2" fill="#6495ED"/><rect x="487" y="48" width="12" height="2" fill="#6495ED"/><rect x="499" y="49" width="11" height="2" fill="#6495ED"/><rect x="510" y="50" width="12" height="2" fill="#6495ED"/><rect x="522" y="51" width="11" height="2" fill="#6495ED"/><rect x="533" y="52" width="12" height="2" fill="#6495ED"/><rect x="545" y="53" width="11" height="2" fill="#6495ED"/><rect x="556" y="54" width="12" height="2" fill="#6495ED"/><rect x="568" y="55" width="11" height="2" fill="#6495ED"/><rect x="579" y="56" width="12" height="2" fill="#6495ED"/><rect x="591" y="57" width="11" height="2" fill="#6495ED"/><rect x="602" y="58" width="12" height="2" fill="#6495ED"/><rect x="614" y="59" width="11" height="2" fill="#6495ED"/><rect x="625" y="60" width="12" height="2" fill="#6495ED"/><rect x="637" y="61" width="11" height="2" fill="#6495ED"/><rect x="648" y="62" width="12" height="2" fill="#6495ED"/><rect x="660" y="63" width="11" height="2" fill="#6495ED"/><rect x="671" y="64" width="12" height="2" fill="#6495ED"/><rect x="683" y="65" width="11" height="2" fill="#6495ED"/><rect x="694" y="66" width="12" height="2" fill="#6495ED"/><rect x="706" y="67" width="11" height="2" fill="#6495ED"/><rect x="717" y="68" width="12" height="2" fill="#6495ED"/><rect x="729" y="69" width="11" height="2" fill="#6495ED"/><rect x="740" y="70" width="12" height="2" fill="#6495ED"/><rect x="752" y="71" width="11" height="2" fill="#6495ED"/><rect x="763" y="72" width="12" height="2" fill="#6495ED"/><rect x="775" y="73" width="11" height="2" fill="#6495ED"/><rect x="786" y="74" width="12" height="2" fill="#6495ED"/><rect x="798" y="75" width="11" height="2" fill="#6495ED"/><rect x="809" y="76" width="12" height="2" fill="#6495ED"/><rect x="821" y="77" width="11" height="2" fill="#6495ED"/><rect x="832" y="78" width="12" height="2" fill="#6495ED"/><rect x="844" y="79" width="11" height="2" fill="#6495ED"/><rect x="855" y="80" width="12" height="2" fill="#6495ED"/><rect x="867" y="81" width="11" height="2" fill="#6495ED"/><rect x="878" y="82" width="12" height="2" fill="#6495ED"/><rect x="890" y="83" width="11" height="2" fill="#6495ED"/><rect x="901" y="84" width="12" height="2" fill="#6495ED"/><rect x="913" y="85" width="11" height="2" fill="#6495ED"/><rect x="924" y="86" width="12" height="2" fill="#6495ED"/><rect x="936" y="87" width="11" height="2" fill="#6495ED"/><rect x="947" y="88" width="12" height="2" fill="#6495ED"/><rect x="959" y="89" width="11" height="2" fill="#6495ED"/><rect x="970" y="90" width="12" height="2" fill="#6495ED"/><rect x="982" y="91" width="11" height="2" fill="#6495ED"/><rect x="993" y="92" width="12" height="2" fill="#6495ED"/><rect x="1005" y="93" width="11" height="2" fill="#6495ED"/><rect x="1016" y="94" width="12" height="2" fill="#6495ED"/><rect x="1028" y="95" width="11" height="2" fill="#6495ED"/><rect x="1039" y="96" width="12" height="2" fill="#6495ED"/><rect x="1051" y="97" width="11" height="2" fill="#6495ED"/><rect x="1062" y="98" width="12" height="2" fill="#6495ED"/><rect x="1074" y="99" width="11" height="2" fill="#6495ED"/><rect x="1085" y="100" width="12" height="2" fill="#6495ED"/><rect x="1097" y="101" width="11" height="2" fill="#6495ED"/><rect x="1108" y="102" width="12" height="2" fill="#6495ED"/><rect x="1120" y="103" width="11" height="2" fill="#6495ED"/><rect x="1131" y="104" width="12" height="2" fill="#6495ED"/><rect x="1143" y="105" width="11" height="2" fill="#6495ED"/><rect x="1154" y="106" width="12" height="2" fill="#6495ED"/><rect x="1166" y="107" width="11" height="2" fill="#6495ED"/><rect x="1177" y="108" width="12" height="2" fill="#6495ED"/><rect x="1189" y="109" width="11" height="2" fill="#6495ED"/><rect x="1200" y="110" width="12" height="2" fill="#6495ED"/><rect x="1212" y="111" width="11" height="2" fill="#6495ED"/><rect x="1223" y="112" width="12" height="2" fill="#6495ED"/><rect x="1235" y="113" width="11" height="2" fill="#6495ED"/><rect x="1246" y="114" width="12" height="2" fill="#6495ED"/><rect x="1258" y="115" width="11" height="2" fill="#6495ED"/><rect x="1269" y="116" width="12" height="2" fill="#6495ED"/><rect x="1281" y="117" width="11" height="2" fill="#6495ED"/><rect x="1292" y="118" width="12" height="2" fill="#6495ED"/><rect x="1304" y="119" width="11" height="2" fill="#6495ED"/><rect x="1315" y="120" width="12" height="2" fill="#6495ED"/><rect x="1327" y="121" width="11" height="2" fill="#6495ED"/><rect x="1338" y="122" width="11" height="2" fill="#6495ED"/><rect x="1349" y="123" width="12" height="2" fill="#6495ED"/><rect x="1361" y="124" width="11" height="2" fill="#6495ED"/><rect x="1372" y="125" width="12" height="2" fill="#6495ED"/><rect x="1384" y="126" width="11" height="2" fill="#6495ED"/><rect x="1395" y="127" width="12" height="2" fill="#6495ED"/><rect x="1407" y="128" width="11" height="2" fill="#6495ED"/><rect x="1418" y="129" width="12" height="2" fill="#6495ED"/><rect x="1430" y="130" width="11" height="2" fill="#6495ED"/><rect x="1441" y="131" width="12" height="2" fill="#6495ED"/><rect x="1453" y="132" width="11" height="2" fill="#6495ED"/><rect x="1464" y="133" width="12" height="2" fill="#6495ED"/><rect x="1476" y="134" width="11" height="2" fill="#6495ED"/><rect x="1487" y="135" width="12" height="2" fill="#6495ED"/><rect x="1499" y="136" width="11" height="2" fill="#6495ED"/><rect x="1510" y="137" width="12" height="2" fill="#6495ED"/><rect x="1522" y="138" width="11" height="2" fill="#6495ED"/><rect x="1533" y="139" width="12" height="2" fill="#6495ED"/><rect x="1545" y="140" width="11" height="2" fill="#6495ED"/><rect x="3" y="258" width="13" height="2" fill="#6495ED"/><rect x="16" y="259" width="12" height="2" fill="#6495ED"/><rect x="28" y="260" width="11" height="2" fill="#6495ED"/><rect x="39" y="261" width="12" height="2" fill="#6495ED"/><rect x="51" y="262" width="11" height="2" fill="#6495ED"/><rect x="62" y="263" width="12" height="2" fill="#6495ED"/><rect x="74" y="264" width="11" height="2" fill="#6495ED"/><rect x="85" y="265" width="12" height="2" fill="#6495ED"/><rect x="97" y="266" width="11" height="2" fill="#6495ED"/><rect x="108" y="267" width="12" height="2" fill="#6495ED"/><rect x="120" y="268" width="11" height="2" fill="#6495ED"/><rect x="131" y="269" width="12" height="2" fill="#6495ED"/><rect x="143" y="270" width="11" height="2" fill="#6495ED"/><rect x="154" y="271" width="12" height="2" fill="#6495ED"/><rect x="166" y="272" width="11" height="2" fill="#6495ED"/><rect x="177" y="273" width="12" height="2" fill="#6495ED"/><rect x="189" y="274" width="11" height="2" fill="#6495ED"/><rect x="200" y="275" width="12" height="2" fill="#6495ED"/><rect x="212" y="276" width="11" height="2" fill="#6495ED"/><rect x="223" y="277" width="12" height="2" fill="#6495ED"/><rect x="235" y="278" width="11" height="2" fill="#6495ED"/><rect x="246" y="279" width="12" height="2" fill="#6495ED"/><rect x="258" y="280" width="11" height="2" fill="#6495ED"/><rect x="269" y="281" width="12" height="2" fill="#6495ED"/><rect x="281" y="282" width="11" height="2" fill="#6495ED"/><rect x="292" y="283" width="12" height="2" fill="#6495ED"/><rect x="304" y="284" width="11" height="2" fill="#6495ED"/><rect x="315" y="285" width="12" height="2" fill="#6495ED"/><rect x="327" y="286" width="11" height="2" fill="#6495ED"/><rect x="338" y="287" width="12" height="2" fill="#6495ED"/><rect x="350" y="288" width="11" height="2" fill="#6495ED"/><rect x="361" y="289" width="12" height="2" fill="#6495ED"/><rect x="373" y="290" width="11" height="2" fill="#6495ED"/><rect x="384" y="291" width="12" height="2" fill="#6495ED"/><rect x="396" y="292" width="11" height="2" fill="#6495ED"/><rect x="407" y="293" width="11" height="2" fill="#6495ED"/><rect x="418" y="294" width="12" height="2" fill="#6495ED"/><rect x="430" y="295" width="11" height="2" fill="#6495ED"/><rect x="441" y="296" width="12" height="2" fill="#6495ED"/><rect x="453" y="297" width="11" height="2" fill="#6495ED"/><rect x="464" y="298" width="12" height="2" fill="#6495ED"/><rect x="476" y="299" width="11" height="2" fill="#6495ED"/><rect x="487" y="300" width="12" height="2" fill="#6495ED"/><rect x="499" y="301" width="11" height="2" fill="#6495ED"/><rect x="510" y="302" width="12" height="2" fill="#6495ED"/><rect x="522" y="303" width="11" height="2" fill="#6495ED"/><rect x="533" y="304" width="12" height="2" fill="#6495ED"/><rect x="545" y="305" width="11" height="2" fill="#6495ED"/><rect x="556" y="306" width="12" height="2" fill="#6495ED"/><rect x="568" y="307" width="11" height="2" fill="#6495ED"/><rect x="579" y="308" width="12" height="2" fill="#6495ED"/><rect x="591" y="309" width="11" height="2" fill="#6495ED"/><rect x="602" y="310" width="12" height="2" fill="#6495ED"/><rect x="614" y="311" width="11" height="2" fill="#6495ED"/><rect x="625" y="312" width="12" height="2" fill="#6495ED"/><rect x="637" y="313" width="11" height="2" fill="#6495ED"/><rect x="648" y="314" width="12" height="2" fill="#6495ED"/><rect x="660" y="315" width="11" height="2" fill="#6495ED"/><rect x="671" y="316" width="12" height="2" fill="#6495ED"/><rect x="683" y="317" width="11" height="2" fill="#6495ED"/><rect x="694" y="318" width="12" height="2" fill="#6495ED"/><rect x="706" y="319" width="11" height="2" fill="#6495ED"/><rect x="717" y="320" width="12" height="2" fill="#6495ED"/><rect x="729" y="321" width="11" height="2" fill="#6495ED"/><rect x="740" y="322" width="12" height="2" fill="#6495ED"/><rect x="752" y="323" width="11" height="2" fill="#6495ED"/><rect x="763" y="324" width="12" height="2" fill="#6495ED"/><rect x="775" y="325" width="11" height="2" fill="#6495ED"/><rect x="786" y="326" width="12" height="2" fill="#6495ED"/><rect x="798" y="327" width="11" height="2" fill="#6495ED"/><rect x="809" y="328" width="12" height="2" fill="#6495ED"/><rect x="821" y="329" width="11" height="2" fill="#6495ED"/><rect x="832" y="330" width="12" height="2" fill="#6495ED"/><rect x="844" y="331" width="11" height="2" fill="#6495ED"/><rect x="855" y="332" width="12" height="2" fill="#6495ED"/><rect x="867" y="333" width="11" height="2" fill="#6495ED"/><rect x="878" y="334" width="12" height="2" fill="#6495ED"/><rect x="890" y="335" width="11" height="2" fill="#6495ED"/><rect x="901" y="336" width="12" height="2" fill="#6495ED"/><rect x="913" y="337" width="11" height="2" fill="#6495ED"/><rect x="924" y="338" width="12" height="2" fill="#6495ED"/><rect x="936" y="339" width="11" height="2" fill="#6495ED"/><rect x="947" y="340" width="12" height="2" fill="#6495ED"/><rect x="959" y="341" width="11" height="2" fill="#6495ED"/><rect x="970" y="342" width="12" height="2" fill="#6495ED"/><rect x="982" y="343" width="11" height="2" fill="#6495ED"/><rect x="993" y="344" width="12" height="2" fill="#6495ED"/><rect x="1005" y="345" width="11" height="2" fill="#6495ED"/><rect x="1016" y="346" width="12" height="2" fill="#6495ED"/><rect x="1028" y="347" width="11" height="2" fill="#6495ED"/><rect x="1039" y="348" width="12" height="2" fill="#6495ED"/><rect x="1051" y="349" width="11" height="2" fill="#6495ED"/><rect x="1062" y="350" width="12" height="2" fill="#6495ED"/><rect x="1074" y="351" width="11" height="2" fill="#6495ED"/><rect x="1085" y="352" width="12" height="2" fill="#6495ED"/><rect x="1097" y="353" width="11" height="2" fill="#6495ED"/><rect x="1108" y="354" width="12" height="2" fill="#6495ED"/><rect x="1120" y="355" width="11" height="2" fill="#6495ED"/><rect x="1131" y="356" width="12" height="2" fill="#6495ED"/><rect x="1143" y="357" width="11" height="2" fill="#6495ED"/><rect x="1154" y="358" width="12" height="2" fill="#6495ED"/><rect x="1166" y="359" width="11" height="2" fill="#6495ED"/><rect x="1177" y="360" width="12" height="2" fill="#6495ED"/><rect x="1189" y="361" width="11" height="2" fill="#6495ED"/><rect x="1200" y="362" width="12" height="2" fill="#6495ED"/><rect x="1212" y="363" width="11" height="2" fill="#6495ED"/><rect x="1223" y="364" width="12" height="2" fill="#6495ED"/><rect x="1235" y="365" width="11" height="2" fill="#6495ED"/><rect x="1246" y="366" width="12" height="2" fill="#6495ED"/><rect x="1258" y="367" width="11" height="2" fill="#6495ED"/><rect x="1269" y="368" width="12" height="2" fill="#6495ED"/><rect x="1281" y="369" width="11" height="1" fill="#6495ED"/><rect x="89" y="3" width="4" height="1" fill="#BA55D3"/><rect x="89" y="4" width="7" height="1" fill="#BA55D3"/><rect x="92" y="5" width="7" height="1" fill="#BA55D3"/><rect x="95" y="6" width="7" height="1" fill="#BA55D3"/><rect x="98" y="7" width="7" height="1" fill="#BA55D3"/><rect x="101" y="8" width="7" height="1" fill="#BA55D3"/><rect x="104" y="9" width="7" height="1" fill="#BA55D3"/><rect x="107" y="10" width="7" height="1" fill="#BA55D3"/><rect x="110" y="11" width="7" height="1" fill="#BA55D3"/><rect x="113" y="12" width="7" height="1" fill="#BA55D3"/><rect x="116" y="13" width="7" height="1" fill="#BA55D3"/><rect x="119" y="14" width="7" height="1" fill="#BA55D3"/><rect x="121" y="15" width="7" height="1" fill="#BA55D3"/><rect x="124" y="16" width="7" height="1" fill="#BA55D3"/><rect x="127" y="17" width="7" height="1" fill="#BA55D3"/><rect x="130" y="18" width="7" height="1" fill="#BA55D3"/><rect x="133" y="19" width="7" height="1" fill="#BA55D3"/><rect x="136" y="20" width="7" height="1" fill="#BA55D3"/><rect x="139" y="21" width="7" height="1" fill="#BA55D3"/><rect x="142" y="22" width="7" height="1" fill="#BA55D3"/><rect x="145" y="23" width="7" height="1" fill="#BA55D3"/><rect x="148" y="24" width="7" height="1" fill="#BA55D3"/><rect x="151" y="25" width="7" height="1" fill="#BA55D3"/><rect x="154" y="26" width="7" height="1" fill="#BA55D3"/><rect x="157" y="27" width="7" height="1" fill="#BA55D3"/><rect x="160" y="28" width="7" height="1" fill="#BA55D3"/><rect x="163" y="29" width="7" height="1" fill="#BA55D3"/><rect x="166" y="30" width="7" height="1" fill="#BA55D3"/><rect x="169" y="31" width="7" height="1" fill="#BA55D3"/><rect x="172" y="32" width="7" height="1" fill="#BA55D3"/><rect x="175" y="33" width="7" height="1" fill="#BA55D3"/><rect x="178" y="34" width="7" height="1" fill="#BA55D3"/><rect x="180" y="35" width="7" height="1" fill="#BA55D3"/><rect x="183" y="36" width="7" height="1" fill="#BA55D3"/><rect x="186" y="37" width="7" height="1" fill="#BA55D3"/><rect x="189" y="38" width="7" height="1" fill="#BA55D3"/><rect x="192" y="39" width="7" height="1" fill="#BA55D3"/><rect x="195" y="40" width="7" height="1" fill="#BA55D3"/><rect x="198" y="41" width="7" height="1" fill="#BA55D3"/><rect x="201" y="42" width="7" height="1" fill="#BA55D3"/><rect x="204" y="43" width="7" height="1" fill="#BA55D3"/><rect x="207" y="44" width="7" height="1" fill="#BA55D3"/><rect x="210" y="45" width="7" height="1" fill="#BA55D3"/><rect x="213" y="46" width="7" height="1" fill="#BA55D3"/><rect x="216" y="47" width="7" height="1" fill="#BA55D3"/><rect x="219" y="48" width="7" height="1" fill="#BA55D3"/><rect x="222" y="49" width="7" height="1" fill="#BA55D3"/><rect x="225" y="50" width="7" height="1" fill="#BA55D3"/><rect x="228" y="51" width="7" height="1" fill="#BA55D3"/><rect x="231" y="52" width="7" height="1" fill="#BA55D3"/><rect x="234" y="53" width="7" height="1" fill="#BA55D3"/><rect x="237" y="54" width="7" height="1" fill="#BA55D3"/><rect x="240" y="55" width="7" height="1" fill="#BA55D3"/><rect x="242" y="56" width="7" height="1" fill="#BA55D3"/><rect x="245" y="57" width="7" height="1" fill="#BA55D3"/><rect x="248" y="58" width="7" height="1" fill="#BA55D3"/><rect x="251" y="59" width="7" height="1" fill="#BA55D3"/><rect x="254" y="60" width="7" height="1" fill="#BA55D3"/><rect x="257" y="61" width="7" height="1" fill="#BA55D3"/><rect x="260" y="62" width="7" height="1" fill="#BA55D3"/><rect x="263" y="63" width="7" height="1" fill="#BA55D3"/><rect x="266" y="64" width="7" height="1" fill="#BA55D3"/><rect x="269" y="65" width="7" height="1" fill="#BA55D3"/><rect x="272" y="66" width="7" height="1" fill="#BA55D3"/><rect x="275" y="67" width="7" height="1" fill="#BA55D3"/><rect x="278" y="68" width="7" height="1" fill="#BA55D3"/><rect x="281" y="69" width="7" height="1" fill="#BA55D3"/><rect x="284" y="70" width="7" height="1" fill="#BA55D3"/><rect x="287" y="71" width="7" height="1" fill="#BA55D3"/><rect x="290" y="72" width="7" height="1" fill="#BA55D3"/><rect x="293" y="73" width="7" height="1" fill="#BA55D3"/><rect x="296" y="74" width="7" height="1" fill="#BA55D3"/><rect x="299" y="75" width="7" height="1" fill="#BA55D3"/><rect x="301" y="76" width="7" height="1" fill="#BA55D3"/><rect x="304" y="77" width="7" height="1" fill="#BA55D3"/><rect x="307" y="78" width="7" height="1" fill="#BA55D3"/><rect x="310" y="79" width="7" height="1" fill="#BA55D3"/><rect x="313" y="80" width="7" height="1" fill="#BA55D3"/><rect x="316" y="81" width="7" height="1" fill="#BA55D3"/><rect x="319" y="82" width="7" height="1" fill="#BA55D3"/><rect x="322" y="83" width="7" height="1" fill="#BA55D3"/><rect x="325" y="84" width="7" height="1" fill="#BA55D3"/><rect x="328" y="85" width="7" height="1" fill="#BA55D3"/><rect x="331" y="86" width="7" height="1" fill="#BA55D3"/><rect x="334" y="87" width="7" height="1" fill="#BA55D3"/><rect x="337" y="88" width="7" height="1" fill="#BA55D3"/><rect x="340" y="89" width="7" height="1" fill="#BA55D3"/><rect x="343" y="90" width="7" height="1" fill="#BA55D3"/><rect x="346" y="91" width="7" height="1" fill="#BA55D3"/><rect x="349" y="92" width="7" height="1" fill="#BA55D3"/><rect x="352" y="93" width="7" height="1" fill="#BA55D3"/><rect x="355" y="94" width="7" height="1" fill="#BA55D3"/><rect x="358" y="95" width="7" height="1" fill="#BA55D3"/><rect x="360" y="96" width="7" height="1" fill="#BA55D3"/><rect x="363" y="97" width="7" height="1" fill="#BA55D3"/><rect x="366" y="98" width="7" height="1" fill="#BA55D3"/><rect x="369" y="99" width="7" height="1" fill="#BA55D3"/><rect x="372" y="100" width="7" height="1" fill="#BA55D3"/><rect x="375" y="101" width="7" height="1" fill="#BA55D3"/><rect x="378" y="102" width="7" height="1" fill="#BA55D3"/><rect x="381" y="103" width="7" height="1" fill="#BA55D3"/><rect x="384" y="104" width="7" height="1" fill="#BA55D3"/><rect x="387" y="105" width="7" height="1" fill="#BA55D3"/><rect x="390" y="106" width="7" height="1" fill="#BA55D3"/><rect x="393" y="107" width="7" height="1" fill="#BA55D3"/><rect x="396" y="108" width="7" height="1" fill="#BA55D3"/><rect x="399" y="109" width="7" height="1" fill="#BA55D3"/><rect x="402" y="110" width="7" height="1" fill="#BA55D3"/><rect x="405" y="111" width="7" height="1" fill="#BA55D3"/><rect x="408" y="112" width="7" height="1" fill="#BA55D3"/><rect x="411" y="113" width="7" height="1" fill="#BA55D3"/><rect x="414" y="114" width="7" height="1" fill="#BA55D3"/><rect x="417" y="115" width="7" height="1" fill="#BA55D3"/><rect x="420" y="116" width="7" height="1" fill="#BA55D3"/><rect x="422" y="117" width="7" height="1" fill="#BA55D3"/><rect x="425" y="118" width="7" height="1" fill="#BA55D3"/><rect x="428" y="119" width="7" height="1" fill="#BA55D3"/><rect x="431" y="120" width="7" height="1" fill="#BA55D3"/><rect x="434" y="121" width="7" height="1" fill="#BA55D3"/><rect x="437" y="122" width="7" height="1" fill="#BA55D3"/><rect x="440" y="123" width="7" height="1" fill="#BA55D3"/><rect x="443" y="124" width="7" height="1" fill="#BA55D3"/><rect x="446" y="125" width="7" height="1" fill="#BA55D3"/><rect x="449" y="126" width="7" height="1" fill="#BA55D3"/><rect x="452" y="127" width="7" height="1" fill="#BA55D3"/><rect x="455" y="128" width="7" height="1" fill="#BA55D3"/><rect x="458" y="129" width="7" height="1" fill="#BA55D3"/><rect x="461" y="130" width="7" height="1" fill="#BA55D3"/><rect x="464" y="131" width="7" height="1" fill="#BA55D3"/><rect x="467" y="132" width="7" height="1" fill="#BA55D3"/><rect x="470" y="133" width="7" height="1" fill="#BA55D3"/><rect x="473" y="134" width="7" height="1" fill="#BA55D3"/><rect x="476" y="135" width="7" height="1" fill="#BA55D3"/><rect x="479" y="136" width="7" height="1" fill="#BA55D3"/><rect x="481" y="137" width="7" height="1" fill="#BA55D3"/><rect x="484" y="138" width="7" height="1" fill="#BA55D3"/><rect x="487" y="139" width="7" height="1" fill="#BA55D3"/><rect x="490" y="140" width="7" height="1" fill="#BA55D3"/><rect x="493" y="141" width="7" height="1" fill="#BA55D3"/><rect x="496" y="142" width="7" height="1" fill="#BA55D3"/><rect x="499" y="143" width="7" height="1" fill="#BA55D3"/><rect x="502" y="144" width="7" height="1" fill="#BA55D3"/><rect x="505" y="145" width="7" height="1" fill="#BA55D3"/><rect x="508" y="146" width="7" height="1" fill="#BA55D3"/><rect x="511" y="147" width="7" height="1" fill="#BA55D3"/><rect x="514" y="148" width="7" height="1" fill="#BA55D3"/><rect x="517" y="149" width="7" height="1" fill="#BA55D3"/><rect x="520" y="150" width="7" height="1" fill="#BA55D3"/><rect x="523" y="151" width="7" height="1" fill="#BA55D3"/><rect x="526" y="152" width="7" height="1" fill="#BA55D3"/><rect x="529" y="153" width="7" height="1" fill="#BA55D3"/><rect x="532" y="154" width="7" height="1" fill="#BA55D3"/><rect x="535" y="155" width="7" height="1" fill="#BA55D3"/><rect x="538" y="156" width="7" height="1" fill="#BA55D3"/><rect x="541" y="157" width="7" height="1" fill="#BA55D3"/><rect x="543" y="158" width="7" height="1" fill="#BA55D3"/><rect x="546" y="159" width="7" height="1" fill="#BA55D3"/><rect x="549" y="160" width="7" height="1" fill="#BA55D3"/><rect x="552" y="161" width="7" height="1" fill="#BA55D3"/><rect x="555" y="162" width="7" height="1" fill="#BA55D3"/><rect x="558" y="163" width="7" height="1" fill="#BA55D3"/><rect x="561" y="164" width="7" height="1" fill="#BA55D3"/><rect x="564" y="165" width="7" height="1" fill="#BA55D3"/><rect x="567" y="166" width="7" height="1" fill="#BA55D3"/><rect x="570" y="167" width="7" height="1" fill="#BA55D3"/><rect x="573" y="168" width="7" height="1" fill="#BA55D3"/><rect x="576" y="169" width="7" height="1" fill="#BA55D3"/><rect x="579" y="170" width="7" height="1" fill="#BA55D3"/><rect x="582" y="171" width="7" height="1" fill="#BA55D3"/><rect x="585" y="172" width="7" height="1" fill="#BA55D3"/><rect x="588" y="173" width="7" height="1" fill="#BA55D3"/><rect x="591" y="174" width="7" height="1" fill="#BA55D3"/><rect x="594" y="175" width="7" height="1" fill="#BA55D3"/><rect x="597" y="176" width="7" height="1" fill="#BA55D3"/><rect x="600" y="177" width="7" height="1" fill="#BA55D3"/><rect x="602" y="178" width="7" height="1" fill="#BA55D3"/><rect x="605" y="179" width="7" height="1" fill="#BA55D3"/><rect x="608" y="180" width="7" height="1" fill="#BA55D3"/><rect x="611" y="181" width="7" height="1" fill="#BA55D3"/><rect x="614" y="182" width="7" height="1" fill="#BA55D3"/><rect x="617" y="183" width="7" height="1" fill="#BA55D3"/><rect x="620" y="184" width="7" height="1" fill="#BA55D3"/><rect x="623" y="185" width="7" height="1" fill="#BA55D3"/><rect x="626" y="186" width="7" height="1" fill="#BA55D3"/><rect x="629" y="187" width="7" height="1" fill="#BA55D3"/><rect x="632" y="188" width="7" height="1" fill="#BA55D3"/><rect x="635" y="189" width="7" height="1" fill="#BA55D3"/><rect x="638" y="190" width="7" height="1" fill="#BA55D3"/><rect x="641" y="191" width="7" height="1" fill="#BA55D3"/><rect x="644" y="192" width="7" height="1" fill="#BA55D3"/><rect x="647" y="193" width="7" height="1" fill="#BA55D3"/><rect x="650" y="194" width="7" height="1" fill="#BA55D3"/><rect x="653" y="195" width="7" height="1" fill="#BA55D3"/><rect x="656" y="196" width="7" height="1" fill="#BA55D3"/><rect x="659" y="197" width="7" height="1" fill="#BA55D3"/><rect x="661" y="198" width="7" height="1" fill="#BA55D3"/><rect x="664" y="199" width="7" height="1" fill="#BA55D3"/><rect x="667" y="200" width="7" height="1" fill="#BA55D3"/><rect x="670" y="201" width="7" height="1" fill="#BA55D3"/><rect x="673" y="202" width="7" height="1" fill="#BA55D3"/><rect x="676" y="203" width="7" height="1" fill="#BA55D3"/><rect x="679" y="204" width="7" height="1" fill="#BA55D3"/><rect x="682" y="205" width="7" height="1" fill="#BA55D3"/><rect x="685" y="206" width="7" height="1" fill="#BA55D3"/><rect x="688" y="207" width="7" height="1" fill="#BA55D3"/><rect x="691" y="208" width="7" height="1" fill="#BA55D3"/><rect x="694" y="209" width="7" height="1" fill="#BA55D3"/><rect x="697" y="210" width="7" height="1" fill="#BA55D3"/><rect x="700" y="211" width="7" height="1" fill="#BA55D3"/><rect x="703" y="212" width="7" height="1" fill="#BA55D3"/><rect x="706" y="213" width="7" height="1" fill="#BA55D3"/><rect x="709" y="214" width="7" height="1" fill="#BA55D3"/><rect x="712" y="215" width="7" height="1" fill="#BA55D3"/><rect x="715" y="216" width="7" height="1" fill="#BA55D3"/><rect x="718" y="217" width="7" height="1" fill="#BA55D3"/><rect x="721" y="218" width="7" height="1" fill="#BA55D3"/><rect x="723" y="219" width="7" height="1" fill="#BA55D3"/><rect x="726" y="220" width="7" height="1" fill="#BA55D3"/><rect x="729" y="221" width="7" height="1" fill="#BA55D3"/><rect x="732" y="222" width="7" height="1" fill="#BA55D3"/><rect x="735" y="223" width="7" height="1" fill="#BA55D3"/><rect x="738" y="224" width="7" height="1" fill="#BA55D3"/><rect x="741" y="225" width="7" height="1" fill="#BA55D3"/><rect x="744" y="226" width="7" height="1" fill="#BA55D3"/><rect x="747" y="227" width="7" height="1" fill="#BA55D3"/><rect x="750" y="228" width="7" height="1" fill="#BA55D3"/><rect x="753" y="229" width="7" height="1" fill="#BA55D3"/><rect x="756" y="230" width="7" height="1" fill="#BA55D3"/><rect x="759" y="231" width="7" height="1" fill="#BA55D3"/><rect x="762" y="232" width="7" height="1" fill="#BA55D3"/><rect x="765" y="233" width="7" height="1" fill="#BA55D3"/><rect x="768" y="234" width="7" height="1" fill="#BA55D3"/><rect x="771" y="235" width="7" height="1" fill="#BA55D3"/><rect x="774" y="236" width="7" height="1" fill="#BA55D3"/><rect x="777" y="237" width="7" height="1" fill="#BA55D3"/><rect x="780" y="238" width="7" height="1" fill="#BA55D3"/><rect x="782" y="239" width="7" height="1" fill="#BA55D3"/><rect x="785" y="240" width="7" height="1" fill="#BA55D3"/><rect x="788" y="241" width="7" height="1" fill="#BA55D3"/><rect x="791" y="242" width="7" height="1" fill="#BA55D3"/><rect x="794" y="243" width="7" height="1" fill="#BA55D3"/><rect x="797" y="244" width="7" height="1" fill="#BA55D3"/><rect x="800" y="245" width="7" height="1" fill="#BA55D3"/><rect x="803" y="246" width="7" height="1" fill="#BA55D3"/><rect x="806" y="247" width="7" height="1" fill="#BA55D3"/><rect x="809" y="248" width="7" height="1" fill="#BA55D3"/><rect x="812" y="249" width="7" height="1" fill="#BA55D3"/><rect x="815" y="250" width="7" height="1" fill="#BA55D3"/><rect x="818" y="251" width="7" height="1" fill="#BA55D3"/><rect x="821" y="252" width="7" height="1" fill="#BA55D3"/><rect x="824" y="253" width="7" height="1" fill="#BA55D3"/><rect x="827" y="254" width="7" height="1" fill="#BA55D3"/><rect x="830" y="255" width="7" height="1" fill="#BA55D3"/><rect x="833" y="256" width="7" height="1" fill="#BA55D3"/><rect x="836" y="257" width="7" height="1" fill="#BA55D3"/><rect x="839" y="258" width="7" height="1" fill="#BA55D3"/><rect x="842" y="259" width="7" height="1" fill="#BA55D3"/><rect x="844" y="260" width="7" height="1" fill="#BA55D3"/><rect x="847" y="261" width="7" height="1" fill="#BA55D3"/><rect x="850" y="262" width="7" height="1" fill="#BA55D3"/><rect x="853" y="263" width="7" height="1" fill="#BA55D3"/><rect x="856" y="264" width="7" height="1" fill="#BA55D3"/><rect x="859" y="265" width="7" height="1" fill="#BA55D3"/><rect x="862" y="266" width="7" height="1" fill="#BA55D3"/><rect x="865" y="267" width="7" height="1" fill="#BA55D3"/><rect x="868" y="268" width="7" height="1" fill="#BA55D3"/><rect x="871" y="269" width="7" height="1" fill="#BA55D3"/><rect x="874" y="270" width="7" height="1" fill="#BA55D3"/><rect x="877" y="271" width="7" height="1" fill="#BA55D3"/><rect x="880" y="272" width="7" height="1" fill="#BA55D3"/><rect x="883" y="273" width="7" height="1" fill="#BA55D3"/><rect x="886" y="274" width="7" height="1" fill="#BA55D3"/><rect x="889" y="275" width="7" height="1" fill="#BA55D3"/><rect x="892" y="276" width="7" height="1" fill="#BA55D3"/><rect x="895" y="277" width="7" height="1" fill="#BA55D3"/><rect x="898" y="278" width="7" height="1" fill="#BA55D3"/><rect x="901" y="279" width="7" height="1" fill="#BA55D3"/><rect x="903" y="280" width="7" height="1" fill="#BA55D3"/><rect x="906" y="281" width="7" height="1" fill="#BA55D3"/><rect x="909" y="282" width="7" height="1" fill="#BA55D3"/><rect x="912" y="283" width="7" height="1" fill="#BA55D3"/><rect x="915" y="284" width="7" height="1" fill="#BA55D3"/><rect x="918" y="285" width="7" height="1" fill="#BA55D3"/><rect x="921" y="286" width="7" height="1" fill="#BA55D3"/><rect x="924" y="287" width="7" height="1" fill="#BA55D3"/><rect x="927" y="288" width="7" height="1" fill="#BA55D3"/><rect x="930" y="289" width="7" height="1" fill="#BA55D3"/><rect x="933" y="290" width="7" height="1" fill="#BA55D3"/><rect x="936" y="291" width="7" height="1" fill="#BA55D3"/><rect x="939" y="292" width="7" height="1" fill="#BA55D3"/><rect x="942" y="293" width="7" height="1" fill="#BA55D3"/><rect x="945" y="294" width="7" height="1" fill="#BA55D3"/><rect x="948" y="295" width="7" height="1" fill="#BA55D3"/><rect x="951" y="296" width="7" height="1" fill="#BA55D3"/><rect x="954" y="297" width="7" height="1" fill="#BA55D3"/><rect x="957" y="298" width="7" height="1" fill="#BA55D3"/><rect x="960" y="299" width="7" height="1" fill="#BA55D3"/><rect x="962" y="300" width="7" height="1" fill="#BA55D3"/><rect x="965" y="301" width="7" height="1" fill="#BA55D3"/><rect x="968" y="302" width="7" height="1" fill="#BA55D3"/><rect x="971" y="303" width="7" height="1" fill="#BA55D3"/><rect x="974" y="304" width="7" height="1" fill="#BA55D3"/><rect x="977" y="305" width="7" height="1" fill="#BA55D3"/><rect x="980" y="306" width="7" height="1" fill="#BA55D3"/><rect x="983" y="307" width="7" height="1" fill="#BA55D3"/><rect x="986" y="308" width="7" height="1" fill="#BA55D3"/><rect x="989" y="309" width="7" height="1" fill="#BA55D3"/><rect x="992" y="310" width="7" height="1" fill="#BA55D3"/><rect x="995" y="311" width="7" height="1" fill="#BA55D3"/><rect x="998" y="312" width="7" height="1" fill="#BA55D3"/><rect x="1001" y="313" width="7" height="1" fill="#BA55D3"/><rect x="1004" y="314" width="7" height="1" fill="#BA55D3"/><rect x="1007" y="315" width="7" height="1" fill="#BA55D3"/><rect x="1010" y="316" width="7" height="1" fill="#BA55D3"/><rect x="1013" y="317" width="7" height="1" fill="#BA55D3"/><rect x="1016" y="318" width="7" height="1" fill="#BA55D3"/><rect x="1019" y="319" width="7" height="1" fill="#BA55D3"/><rect x="1022" y="320" width="7" height="1" fill="#BA55D3"/><rect x="1024" y="321" width="7" height="1" fill="#BA55D3"/><rect x="1027" y="322" width="7" height="1" fill="#BA55D3"/><rect x="1030" y="323" width="7" height="1" fill="#BA55D3"/><rect x="1033" y="324" width="7" height="1" fill="#BA55D3"/><rect x="1036" y="325" width="7" height="1" fill="#BA55D3"/><rect x="1039" y="326" width="7" height="1" fill="#BA55D3"/><rect x="1042" y="327" width="7" height="1" fill="#BA55D3"/><rect x="1045" y="328" width="7" height="1" fill="#BA55D3"/><rect x="1048" y="329" width="7" height="1" fill="#BA55D3"/><rect x="1051" y="330" width="7" height="1" fill="#BA55D3"/><rect x="1054" y="331" width="7" height="1" fill="#BA55D3"/><rect x="1057" y="332" width="7" height="1" fill="#BA55D3"/><rect x="1060" y="333" width="7" height="1" fill="#BA55D3"/><rect x="1063" y="334" width="7" height="1" fill="#BA55D3"/><rect x="1066" y="335" width="7" height="1" fill="#BA55D3"/><rect x="1069" y="336" width="7" height="1" fill="#BA55D3"/><rect x="1072" y="337" width="7" height="1" fill="#BA55D3"/><rect x="1075" y="338" width="7" height="1" fill="#BA55D3"/><rect x="1078" y="339" width="7" height="1" fill="#BA55D3"/><rect x="1081" y="340" width="7" height="1" fill="#BA55D3"/><rect x="1083" y="341" width="7" height="1" fill="#BA55D3"/><rect x="1086" y="342" width="7" height="1" fill="#BA55D3"/><rect x="1089" y="343" width="7" height="1" fill="#BA55D3"/><rect x="1092" y="344" width="7" height="1" fill="#BA55D3"/><rect x="1095" y="345" width="7" height="1" fill="#BA55D3"/><rect x="1098" y="346" width="7" height="1" fill="#BA55D3"/><rect x="1101" y="347" width="7" height="1" fill="#BA55D3"/><rect x="1104" y="348" width="7" height="1" fill="#BA55D3"/><rect x="1107" y="349" width="7" height="1" fill="#BA55D3"/><rect x="1110" y="350" width="7" height="1" fill="#BA55D3"/><rect x="1113" y="351" width="7" height="1" fill="#BA55D3"/><rect x="1116" y="352" width="7" height="1" fill="#BA55D3"/><rect x="1119" y="353" width="7" height="1" fill="#BA55D3"/><rect x="1122" y="354" width="7" height="1" fill="#BA55D3"/><rect x="1125" y="355" width="7" height="1" fill="#BA55D3"/><rect x="1128" y="356" width="7" height="1" fill="#BA55D3"/><rect x="1131" y="357" width="7" height="1" fill="#BA55D3"/><rect x="1134" y="358" width="7" height="1" fill="#BA55D3"/><rect x="1137" y="359" width="7" height="1" fill="#BA55D3"/><rect x="1140" y="360" width="7" height="1" fill="#BA55D3"/><rect x="1143" y="361" width="7" height="1" fill="#BA55D3"/><rect x="1145" y="362" width="7" height="1" fill="#BA55D3"/><rect x="1148" y="363" width="7" height="1" fill="#BA55D3"/><rect x="1151" y="364" width="7" height="1" fill="#BA55D3"/><rect x="1154" y="365" width="7" height="1" fill="#BA55D3"/><rect x="1157" y="366" width="7" height="1" fill="#BA55D3"/><rect x="1160" y="367" width="7" height="1" fill="#BA55D3"/><rect x="1163" y="368" width="7" height="1" fill="#BA55D3"/><rect x="1166" y="369" width="7" height="1" fill="#BA55D3"/><rect x="819" y="55" width="4" height="1" fill="#BA55D3"/><rect x="819" y="56" width="7" height="1" fill="#BA55D3"/><rect x="822" y="57" width="7" height="1" fill="#BA55D3"/><rect x="825" y="58" width="7" height="1" fill="#BA55D3"/><rect x="828" y="59" width="7" height="1" fill="#BA55D3"/><rect x="831" y="60" width="7" height="1" fill="#BA55D3"/><rect x="834" y="61" width="7" height="1" fill="#BA55D3"/><rect x="837" y="62" width="7" height="1" fill="#BA55D3"/><rect x="840" y="63" width="7" height="1" fill="#BA55D3"/><rect x="843" y="64" width="7" height="1" fill="#BA55D3"/><rect x="846" y="65" width="7" height="1" fill="#BA55D3"/><rect x="849" y="66" width="7" height="1" fill="#BA55D3"/><rect x="852" y="67" width="7" height="1" fill="#BA55D3"/><rect x="855" y="68" width="7" height="1" fill="#BA55D3"/><rect x="857" y="69" width="7" height="1" fill="#BA55D3"/><rect x="860" y="70" width="7" height="1" fill="#BA55D3"/><rect x="863" y="71" width="7" height="1" fill="#BA55D3"/><rect x="866" y="72" width="7" height="1" fill="#BA55D3"/><rect x="869" y="73" width="7" height="1" fill="#BA55D3"/><rect x="872" y="74" width="7" height="1" fill="#BA55D3"/><rect x="875" y="75" width="7" height="1" fill="#BA55D3"/><rect x="878" y="76" width="7" height="1" fill="#BA55D3"/><rect x="881" y="77" width="7" height="1" fill="#BA55D3"/><rect x="884" y="78" width="7" height="1" fill="#BA55D3"/><rect x="887" y="79" width="7" height="1" fill="#BA55D3"/><rect x="890" y="80" width="7" height="1" fill="#BA55D3"/><rect x="893" y="81" width="7" height="1" fill="#BA55D3"/><rect x="896" y="82" width="7" height="1" fill="#BA55D3"/><rect x="899" y="83" width="7" height="1" fill="#BA55D3"/><rect x="902" y="84" width="7" height="1" fill="#BA55D3"/><rect x="905" y="85" width="7" height="1" fill="#BA55D3"/><rect x="908" y="86" width="7" height="1" fill="#BA55D3"/><rect x="911" y="87" width="7" height="1" fill="#BA55D3"/><rect x="914" y="88" width="7" height="1" fill="#BA55D3"/><rect x="917" y="89" width="7" height="1" fill="#BA55D3"/><rect x="920" y="90" width="7" height="1" fill="#BA55D3"/><rect x="923" y="91" width="7" height="1" fill="#BA55D3"/><rect x="926" y="92" width="7" height="1" fill="#BA55D3"/><rect x="928" y="93" width="7" height="1" fill="#BA55D3"/><rect x="931" y="94" width="7" height="1" fill="#BA55D3"/><rect x="934" y="95" width="7" height="1" fill="#BA55D3"/><rect x="937" y="96" width="7" height="1" fill="#BA55D3"/><rect x="940" y="97" width="7" height="1" fill="#BA55D3"/><rect x="943" y="98" width="7" height="1" fill="#BA55D3"/><rect x="946" y="99" width="7" height="1" fill="#BA55D3"/><rect x="949" y="100" width="7" height="1" fill="#BA55D3"/><rect x="952" y="101" width="7" height="1" fill="#BA55D3"/><rect x="955" y="102" width="7" height="1" fill="#BA55D3"/><rect x="958" y="103" width="7" height="1" fill="#BA55D3"/><rect x="961" y="104" width="7" height="1" fill="#BA55D3"/><rect x="964" y="105" width="7" height="1" fill="#BA55D3"/><rect x="967" y="106" width="7" height="1" fill="#BA55D3"/><rect x="970" y="107" width="7" height="1" fill="#BA55D3"/><rect x="973" y="108" width="7" height="1" fill="#BA55D3"/><rect x="976" y="109" width="7" height="1" fill="#BA55D3"/><rect x="979" y="110" width="7" height="1" fill="#BA55D3"/><rect x="982" y="111" width="7" height="1" fill="#BA55D3"/><rect x="985" y="112" width="7" height="1" fill="#BA55D3"/><rect x="988" y="113" width="7" height="1" fill="#BA55D3"/><rect x="991" y="114" width="7" height="1" fill="#BA55D3"/><rect x="994" y="115" width="7" height="1" fill="#BA55D3"/><rect x="997" y="116" width="7" height="1" fill="#BA55D3"/><rect x="999" y="117" width="7" height="1" fill="#BA55D3"/><rect x="1002" y="118" width="7" height="1" fill="#BA55D3"/><rect x="1005" y="119" width="7" height="1" fill="#BA55D3"/><rect x="1008" y="120" width="7" height="1" fill="#BA55D3"/><rect x="1011" y="121" width="7" height="1" fill="#BA55D3"/><rect x="1014" y="122" width="7" height="1" fill="#BA55D3"/><rect x="1017" y="123" width="7" height="1" fill="#BA55D3"/><rect x="1020" y="124" width="7" height="1" fill="#BA55D3"/><rect x="1023" y="125" width="7" height="1" fill="#BA55D3"/><rect x="1026" y="126" width="7" height="1" fill="#BA55D3"/><rect x="1029" y="127" width="7" height="1" fill="#BA55D3"/><rect x="1032" y="128" width="7" height="1" fill="#BA55D3"/><rect x="1035" y="129" width="7" height="1" fill="#BA55D3"/><rect x="1038" y="130" width="7" height="1" fill="#BA55D3"/><rect x="1041" y="131" width="7" height="1" fill="#BA55D3"/><rect x="1044" y="132" width="7" height="1" fill="#BA55D3"/><rect x="1047" y="133" width="7" height="1" fill="#BA55D3"/><rect x="1050" y="134" width="7" height="1" fill="#BA55D3"/><rect x="1053" y="135" width="7" height="1" fill="#BA55D3"/><rect x="1056" y="136" width="7" height="1" fill="#BA55D3"/><rect x="1059" y="137" width="7" height="1" fill="#BA55D3"/><rect x="1062" y="138" width="7" height="1" fill="#BA55D3"/><rect x="1065" y="139" width="7" height="1" fill="#BA55D3"/><rect x="1068" y="140" width="7" height="1" fill="#BA55D3"/><rect x="1071" y="141" width="7" height="1" fill="#BA55D3"/><rect x="1073" y="142" width="7" height="1" fill="#BA55D3"/><rect x="1076" y="143" width="7" height="1" fill="#BA55D3"/><rect x="1079" y="144" width="7" height="1" fill="#BA55D3"/><rect x="1082" y="145" width="7" height="1" fill="#BA55D3"/><rect x="1085" y="146" width="7" height="1" fill="#BA55D3"/><rect x="1088" y="147" width="7" height="1" fill="#BA55D3"/><rect x="1091" y="148" width="7" height="1" fill="#BA55D3"/><rect x="1094" y="149" width="7" height="1" fill="#BA55D3"/><rect x="1097" y="150" width="7" height="1" fill="#BA55D3"/><rect x="1100" y="151" width="7" height="1" fill="#BA55D3"/><rect x="1103" y="152" width="7" height="1" fill="#BA55D3"/><rect x="1106" y="153" width="7" height="1" fill="#BA55D3"/><rect x="1109" y="154" width="7" height="1" fill="#BA55D3"/><rect x="1112" y="155" width="7" height="1" fill="#BA55D3"/><rect x="1115" y="156" width="7" height="1" fill="#BA55D3"/><rect x="1118" y="157" width="7" height="1" fill="#BA55D3"/><rect x="1121" y="158" width="7" height="1" fill="#BA55D3"/><rect x="1124" y="159" width="7" height="1" fill="#BA55D3"/><rect x="1127" y="160" width="7" height="1" fill="#BA55D3"/><rect x="1130" y="161" width="7" height="1" fill="#BA55D3"/><rect x="1133" y="162" width="7" height="1" fill="#BA55D3"/><rect x="1136" y="163" width="7" height="1" fill="#BA55D3"/><rect x="1139" y="164" width="7" height="1" fill="#BA55D3"/><rect x="1142" y="165" width="7" height="1" fill="#BA55D3"/><rect x="1144" y="166" width="7" height="1" fill="#BA55D3"/><rect x="1147" y="167" width="7" height="1" fill="#BA55D3"/><rect x="1150" y="168" width="7" height="1" fill="#BA55D3"/><rect x="1153" y="169" width="7" height="1" fill="#BA55D3"/><rect x="1156" y="170" width="7" height="1" fill="#BA55D3"/><rect x="1159" y="171" width="7" height="1" fill="#BA55D3"/><rect x="1162" y="172" width="7" height="1" fill="#BA55D3"/><rect x="1165" y="173" width="7" height="1" fill="#BA55D3"/><rect x="1168" y="174" width="7" height="1" fill="#BA55D3"/><rect x="1171" y="175" width="7" height="1" fill="#BA55D3"/><rect x="1174" y="176" width="7" height="1" fill="#BA55D3"/><rect x="1177" y="177" width="7" height="1" fill="#BA55D3"/><rect x="1180" y="178" width="7" height="1" fill="#BA55D3"/><rect x="1183" y="179" width="7" height="1" fill="#BA55D3"/><rect x="1186" y="180" width="7" height="1" fill="#BA55D3"/><rect x="1189" y="181" width="7" height="1" fill="#BA55D3"/><rect x="1192" y="182" width="7" height="1" fill="#BA55D3"/><rect x="1195" y="183" width="7" height="1" fill="#BA55D3"/><rect x="1198" y="184" width="7" height="1" fill="#BA55D3"/><rect x="1201" y="185" width="7" height="1" fill="#BA55D3"/><rect x="1204" y="186" width="7" height="1" fill="#BA55D3"/><rect x="1207" y="187" width="7" height="1" fill="#BA55D3"/><rect x="1210" y="188" width="7" height="1" fill="#BA55D3"/><rect x="1213" y="189" width="7" height="1" fill="#BA55D3"/><rect x="1216" y="190" width="7" height="1" fill="#BA55D3"/><rect x="1218" y="191" width="7" height="1" fill="#BA55D3"/><rect x="1221" y="192" width="7" height="1" fill="#BA55D3"/><rect x="1224" y="193" width="7" height="1" fill="#BA55D3"/><rect x="1227" y="194" width="7" height="1" fill="#BA55D3"/><rect x="1230" y="195" width="7" height="1" fill="#BA55D3"/><rect x="1233" y="196" width="7" height="1" fill="#BA55D3"/><rect x="1236" y="197" width="7" height="1" fill="#BA55D3"/><rect x="1239" y="198" width="7" height="1" fill="#BA55D3"/><rect x="1242" y="199" width="7" height="1" fill="#BA55D3"/><rect x="1245" y="200" width="7" height="1" fill="#BA55D3"/><rect x="1248" y="201" width="7" height="1" fill="#BA55D3"/><rect x="1251" y="202" width="7" height="1" fill="#BA55D3"/><rect x="1254" y="203" width="7" height="1" fill="#BA55D3"/><rect x="1257" y="204" width="7" height="1" fill="#BA55D3"/><rect x="1260" y="205" width="7" height="1" fill="#BA55D3"/><rect x="1263" y="206" width="7" height="1" fill="#BA55D3"/><rect x="1266" y="207" width="7" height="1" fill="#BA55D3"/><rect x="1269" y="208" width="7" height="1" fill="#BA55D3"/><rect x="1272" y="209" width="7" height="1" fill="#BA55D3"/><rect x="1275" y="210" width="7" height="1" fill="#BA55D3"/><rect x="1278" y="211" width="7" height="1" fill="#BA55D3"/><rect x="1281" y="212" width="7" height="1" fill="#BA55D3"/><rect x="1284" y="213" width="7" height="1" fill="#BA55D3"/><rect x="1287" y="214" width="7" height="1" fill="#BA55D3"/><rect x="1289" y="215" width="7" height="1" fill="#BA55D3"/><rect x="1292" y="216" width="7" height="1" fill="#BA55D3"/><rect x="1295" y="217" width="7" height="1" fill="#BA55D3"/><rect x="1298" y="218" width="7" height="1" fill="#BA55D3"/><rect x="1301" y="219" width="7" height="1" fill="#BA55D3"/><rect x="1304" y="220" width="7" height="1" fill="#BA55D3"/><rect x="1307" y="221" width="7" height="1" fill="#BA55D3"/><rect x="1310" y="222" width="7" height="1" fill="#BA55D3"/><rect x="1313" y="223" width="7" height="1" fill="#BA55D3"/><rect x="1316" y="224" width="7" height="1" fill="#BA55D3"/><rect x="1319" y="225" width="7" height="1" fill="#BA55D3"/><rect x="1322" y="226" width="7" height="1" fill="#BA55D3"/><rect x="1325" y="227" width="7" height="1" fill="#BA55D3"/><rect x="1328" y="228" width="7" height="1" fill="#BA55D3"/><rect x="1331" y="229" width="7" height="1" fill="#BA55D3"/><rect x="1334" y="230" width="7" height="1" fill="#BA55D3"/><rect x="1337" y="231" width="7" height="1" fill="#BA55D3"/><rect x="1340" y="232" width="7" height="1" fill="#BA55D3"/><rect x="1343" y="233" width="7" height="1" fill="#BA55D3"/><rect x="1346" y="234" width="7" height="1" fill="#BA55D3"/><rect x="1349" y="235" width="7" height="1" fill="#BA55D3"/><rect x="1352" y="236" width="7" height="1" fill="#BA55D3"/><rect x="1355" y="237" width="7" height="1" fill="#BA55D3"/><rect x="1358" y="238" width="7" height="1" fill="#BA55D3"/><rect x="1360" y="239" width="7" height="1" fill="#BA55D3"/><rect x="1363" y="240" width="7" height="1" fill="#BA55D3"/><rect x="1366" y="241" width="7" height="1" fill="#BA55D3"/><rect x="1369" y="242" width="7" height="1" fill="#BA55D3"/><rect x="1372" y="243" width="7" height="1" fill="#BA55D3"/><rect x="1375" y="244" width="7" height="1" fill="#BA55D3"/><rect x="1378" y="245" width="7" height="1" fill="#BA55D3"/><rect x="1381" y="246" width="7" height="1" fill="#BA55D3"/><rect x="1384" y="247" width="7" height="1" fill="#BA55D3"/><rect x="1387" y="248" width="7" height="1" fill="#BA55D3"/><rect x="1390" y="249" width="7" height="1" fill="#BA55D3"/><rect x="1393" y="250" width="7" height="1" fill="#BA55D3"/><rect x="1396" y="251" width="7" height="1" fill="#BA55D3"/><rect x="1399" y="252" width="7" height="1" fill="#BA55D3"/><rect x="1402" y="253" width="7" height="1" fill="#BA55D3"/><rect x="1405" y="254" width="7" height="1" fill="#BA55D3"/><rect x="1408" y="255" width="7" height="1" fill="#BA55D3"/><rect x="1411" y="256" width="7" height="1" fill="#BA55D3"/><rect x="1414" y="257" width="7" height="1" fill="#BA55D3"/><rect x="1417" y="258" width="7" height="1" fill="#BA55D3"/><rect x="1420" y="259" width="7" height="1" fill="#BA55D3"/><rect x="1423" y="260" width="7" height="1" fill="#BA55D3"/><rect x="1426" y="261" width="7" height="1" fill="#BA55D3"/><rect x="1429" y="262" width="7" height="1" fill="#BA55D3"/><rect x="1432" y="263" width="7" height="1" fill="#BA55D3"/><rect x="1434" y="264" width="7" height="1" fill="#BA55D3"/><rect x="1437" y="265" width="7" height="1" fill="#BA55D3"/><rect x="1440" y="266" width="7" height="1" fill="#BA55D3"/><rect x="1443" y="267" width="7" height="1" fill="#BA55D3"/><rect x="1446" y="268" width="7" height="1" fill="#BA55D3"/><rect x="1449" y="269" width="7" height="1" fill="#BA55D3"/><rect x="1452" y="270" width="7" height="1" fill="#BA55D3"/><rect x="1455" y="271" width="7" height="1" fill="#BA55D3"/><rect x="1458" y="272" width="7" height="1" fill="#BA55D3"/><rect x="1461" y="273" width="7" height="1" fill="#BA55D3"/><rect x="1464" y="274" width="7" height="1" fill="#BA55D3"/><rect x="1467" y="275" width="7" height="1" fill="#BA55D3"/><rect x="1470" y="276" width="7" height="1" fill="#BA55D3"/><rect x="1473" y="277" width="7" height="1" fill="#BA55D3"/><rect x="1476" y="278" width="7" height="1" fill="#BA55D3"/><rect x="1479" y="279" width="7" height="1" fill="#BA55D3"/><rect x="1482" y="280" width="7" height="1" fill="#BA55D3"/><rect x="1485" y="281" width="7" height="1" fill="#BA55D3"/><rect x="1488" y="282" width="7" height="1" fill="#BA55D3"/><rect x="1491" y="283" width="7" height="1" fill="#BA55D3"/><rect x="1494" y="284" width="7" height="1" fill="#BA55D3"/><rect x="1497" y="285" width="7" height="1" fill="#BA55D3"/><rect x="1500" y="286" width="7" height="1" fill="#BA55D3"/><rect x="1503" y="287" width="7" height="1" fill="#BA55D3"/><rect x="1505" y="288" width="7" height="1" fill="#BA55D3"/><rect x="1508" y="289" width="7" height="1" fill="#BA55D3"/><rect x="1511" y="290" width="7" height="1" fill="#BA55D3"/><rect x="1514" y="291" width="7" height="1" fill="#BA55D3"/><rect x="1517" y="292" width="7" height="1" fill="#BA55D3"/><rect x="1520" y="293" width="7" height="1" fill="#BA55D3"/><rect x="1523" y="294" width="7" height="1" fill="#BA55D3"/><rect x="1526" y="295" width="7" height="1" fill="#BA55D3"/><rect x="1529" y="296" width="7" height="1" fill="#BA55D3"/><rect x="1532" y="297" width="7" height="1" fill="#BA55D3"/><rect x="1535" y="298" width="7" height="1" fill="#BA55D3"/><rect x="1538" y="299" width="7" height="1" fill="#BA55D3"/><rect x="1541" y="300" width="7" height="1" fill="#BA55D3"/><rect x="1544" y="301" width="7" height="1" fill="#BA55D3"/><rect x="1547" y="302" width="7" height="1" fill="#BA55D3"/><rect x="1550" y="303" width="6" height="1" fill="#BA55D3"/><rect x="1553" y="304" width="3" height="1" fill="#BA55D3"/></g>
<g shape-rendering="crispEdges"><rect x="2" y="2" width="1555" height="1" fill="#fff"/><rect x="2" y="2" width="1" height="459" fill="#fff"/><rect x="1556" y="2" width="1" height="459" fill="#fff"/><rect x="2" y="370" width="1555" height="1" fill="#fff"/><rect x="0" y="371" width="1596" height="1" fill="#000"/><rect x="2" y="372" width="1555" height="1" fill="#fff"/><rect x="2" y="460" width="1555" height="1" fill="#fff"/><rect x="1557" y="23" width="2" height="1" fill="#fff"/><rect x="1557" y="57" width="2" height="1" fill="#fff"/><rect x="1557" y="91" width="2" height="1" fill="#fff"/><rect x="1557" y="126" width="2" height="1" fill="#fff"/><rect x="1557" y="160" width="2" height="1" fill="#fff"/><rect x="1557" y="194" width="2" height="1" fill="#fff"/><rect x="1557" y="228" width="2" height="1" fill="#fff"/><rect x="1557" y="263" width="2" height="1" fill="#fff"/><rect x="1557" y="297" width="2" height="1" fill="#fff"/><rect x="1557" y="331" width="2" height="1" fill="#fff"/><rect x="1557" y="366" width="2" height="1" fill="#fff"/><rect x="1557" y="374" width="1" height="1" fill="#fff"/><rect x="1557" y="459" width="1" height="1" fill="#fff"/><rect x="3" y="461" width="1" height="3" fill="#fff"/><rect x="67" y="461" width="1" height="3" fill="#fff"/><rect x="131" y="461" width="1" height="3" fill="#fff"/><rect x="195" y="461" width="1" height="3" fill="#fff"/><rect x="259" y="461" width="1" height="3" fill="#fff"/><rect x="323" y="461" width="1" height="3" fill="#fff"/><rect x="387" y="461" width="1" height="3" fill="#fff"/><rect x="451" y="461" width="1" height="3" fill="#fff"/><rect x="515" y="461" width="1" height="3" fill="#fff"/><rect x="579" y="461" width="1" height="3" fill="#fff"/><rect x="643" y="461" width="1" height="3" fill="#fff"/><rect x="707" y="461" width="1" height="3" fill="#fff"/><rect x="771" y="461" width="1" height="3" fill="#fff"/><rect x="835" y="461" width="1" height="3" fill="#fff"/><rect x="899" y="461" width="1" height="3" fill="#fff"/><rect x="963" y="461" width="1" height="3" fill="#fff"/><rect x="1027" y="461" width="1" height="3" fill="#fff"/><rect x="1091" y="461" width="1" height="3" fill="#fff"/><rect x="1155" y="461" width="1" height="3" fill="#fff"/><rect x="1219" y="461" width="1" height="3" fill="#fff"/></g>
<g font-family='"Liberation Sans", sans-serif' font-size="10" stroke-width="0.2" text-rendering="geometricPrecision">
<text x="1562.30" y="26" fill="#fff" stroke="#fff" textLength="28.10" lengthAdjust="spacingAndGlyphs">1.6225</text>
<text x="1562.30" y="60" fill="#fff" stroke="#fff" textLength="28.10" lengthAdjust="spacingAndGlyphs">1.6180</text>
<text x="1562.30" y="94" fill="#fff" stroke="#fff" textLength="28.10" lengthAdjust="spacingAndGlyphs">1.6135</text>
<text x="1562.30" y="129" fill="#fff" stroke="#fff" textLength="28.10" lengthAdjust="spacingAndGlyphs">1.6090</text>
<text x="1562.30" y="163" fill="#fff" stroke="#fff" textLength="28.10" lengthAdjust="spacingAndGlyphs">1.6045</text>
<text x="1562.30" y="197" fill="#fff" stroke="#fff" textLength="28.10" lengthAdjust="spacingAndGlyphs">1.6000</text>
<text x="1562.30" y="231" fill="#fff" stroke="#fff" textLength="28.10" lengthAdjust="spacingAndGlyphs">1.5955</text>
<text x="1562.30" y="266" fill="#fff" stroke="#fff" textLength="28.10" lengthAdjust="spacingAndGlyphs">1.5910</text>
<text x="1562.30" y="300" fill="#fff" stroke="#fff" textLength="28.10" lengthAdjust="spacingAndGlyphs">1.5865</text>
<text x="1562.30" y="334" fill="#fff" stroke="#fff" textLength="28.10" lengthAdjust="spacingAndGlyphs">1.5820</text>
<text x="1562.30" y="369" fill="#fff" stroke="#fff" textLength="28.10" lengthAdjust="spacingAndGlyphs">1.5775</text>
<rect x="1558" y="37" width="36" height="11" fill="#ff0000" shape-rendering="crispEdges"/>
<text x="1562.30" y="46" fill="#000" stroke="#000" stroke-width="0.08" textLength="28.10" lengthAdjust="spacingAndGlyphs">1.6198</text>
<rect x="1558" y="125" width="36" height="11" fill="#fff" shape-rendering="crispEdges"/>
<text x="1562.30" y="134" fill="#000" stroke="#000" stroke-width="0.08" textLength="28.10" lengthAdjust="spacingAndGlyphs">1.6083</text>
<rect x="1558" y="204" width="36" height="11" fill="#fff" shape-rendering="crispEdges"/>
<text x="1562.30" y="213" fill="#000" stroke="#000" stroke-width="0.08" textLength="28.10" lengthAdjust="spacingAndGlyphs">1.5979</text>
<rect x="1558" y="261" width="36" height="11" fill="#fff" shape-rendering="crispEdges"/>
<text x="1562.30" y="270" fill="#000" stroke="#000" stroke-width="0.08" textLength="28.10" lengthAdjust="spacingAndGlyphs">1.5906</text>
<rect x="1558" y="274" width="36" height="11" fill="#fff" shape-rendering="crispEdges"/>
<text x="1562.30" y="283" fill="#000" stroke="#000" stroke-width="0.08" textLength="28.10" lengthAdjust="spacingAndGlyphs">1.5887</text>
<rect x="1558" y="342" width="36" height="11" fill="#fff" shape-rendering="crispEdges"/>
<text x="1562.30" y="351" fill="#000" stroke="#000" stroke-width="0.08" textLength="28.10" lengthAdjust="spacingAndGlyphs">1.5798</text>
<text x="1559.50" y="383" fill="#fff" stroke="#fff" textLength="20.80" lengthAdjust="spacingAndGlyphs">6921</text>
<text x="1559.50" y="457" fill="#fff" stroke="#fff" textLength="6.00" lengthAdjust="spacingAndGlyphs">0</text>
<text x="7.50" y="385" fill="#fff" stroke="#fff" textLength="53.60" lengthAdjust="spacingAndGlyphs">Volumes 455</text>
<text x="7.10" y="456" fill="#fff" stroke="#fff" textLength="227.50" lengthAdjust="spacingAndGlyphs">IFX Trader, © 2001-2014, MetaQuotes Software Corp.</text>
<text x="1.80" y="473" fill="#fff" stroke="#fff" textLength="46.20" lengthAdjust="spacingAndGlyphs">3 Oct 2014</text>
<text x="65.80" y="473" fill="#fff" stroke="#fff" textLength="49.30" lengthAdjust="spacingAndGlyphs">7 Oct 00:00</text>
<text x="129.80" y="473" fill="#fff" stroke="#fff" textLength="49.30" lengthAdjust="spacingAndGlyphs">8 Oct 08:00</text>
<text x="193.80" y="473" fill="#fff" stroke="#fff" textLength="49.30" lengthAdjust="spacingAndGlyphs">9 Oct 16:00</text>
<text x="257.80" y="473" fill="#fff" stroke="#fff" textLength="54.20" lengthAdjust="spacingAndGlyphs">13 Oct 00:00</text>
<text x="321.80" y="473" fill="#fff" stroke="#fff" textLength="54.20" lengthAdjust="spacingAndGlyphs">14 Oct 08:00</text>
<text x="385.80" y="473" fill="#fff" stroke="#fff" textLength="54.20" lengthAdjust="spacingAndGlyphs">15 Oct 16:00</text>
<text x="449.80" y="473" fill="#fff" stroke="#fff" textLength="54.20" lengthAdjust="spacingAndGlyphs">17 Oct 00:00</text>
<text x="513.80" y="473" fill="#fff" stroke="#fff" textLength="54.20" lengthAdjust="spacingAndGlyphs">20 Oct 08:00</text>
<text x="577.80" y="473" fill="#fff" stroke="#fff" textLength="54.20" lengthAdjust="spacingAndGlyphs">21 Oct 16:00</text>
<text x="641.80" y="473" fill="#fff" stroke="#fff" textLength="54.20" lengthAdjust="spacingAndGlyphs">23 Oct 00:00</text>
<text x="705.80" y="473" fill="#fff" stroke="#fff" textLength="54.20" lengthAdjust="spacingAndGlyphs">24 Oct 08:00</text>
<text x="769.80" y="473" fill="#fff" stroke="#fff" textLength="54.20" lengthAdjust="spacingAndGlyphs">27 Oct 16:00</text>
<text x="833.80" y="473" fill="#fff" stroke="#fff" textLength="54.20" lengthAdjust="spacingAndGlyphs">29 Oct 00:00</text>
<text x="897.80" y="473" fill="#fff" stroke="#fff" textLength="54.20" lengthAdjust="spacingAndGlyphs">30 Oct 08:00</text>
<text x="961.80" y="473" fill="#fff" stroke="#fff" textLength="54.20" lengthAdjust="spacingAndGlyphs">31 Oct 16:00</text>
<text x="1025.80" y="473" fill="#fff" stroke="#fff" textLength="52.50" lengthAdjust="spacingAndGlyphs">4 Nov 00:00</text>
<text x="1089.80" y="473" fill="#fff" stroke="#fff" textLength="52.50" lengthAdjust="spacingAndGlyphs">5 Nov 08:00</text>
<text x="1153.80" y="473" fill="#fff" stroke="#fff" textLength="52.50" lengthAdjust="spacingAndGlyphs">6 Nov 16:00</text>
<text x="1217.80" y="473" fill="#fff" stroke="#fff" textLength="57.40" lengthAdjust="spacingAndGlyphs">10 Nov 00:00</text>
</g>
</svg>
</body></html>
